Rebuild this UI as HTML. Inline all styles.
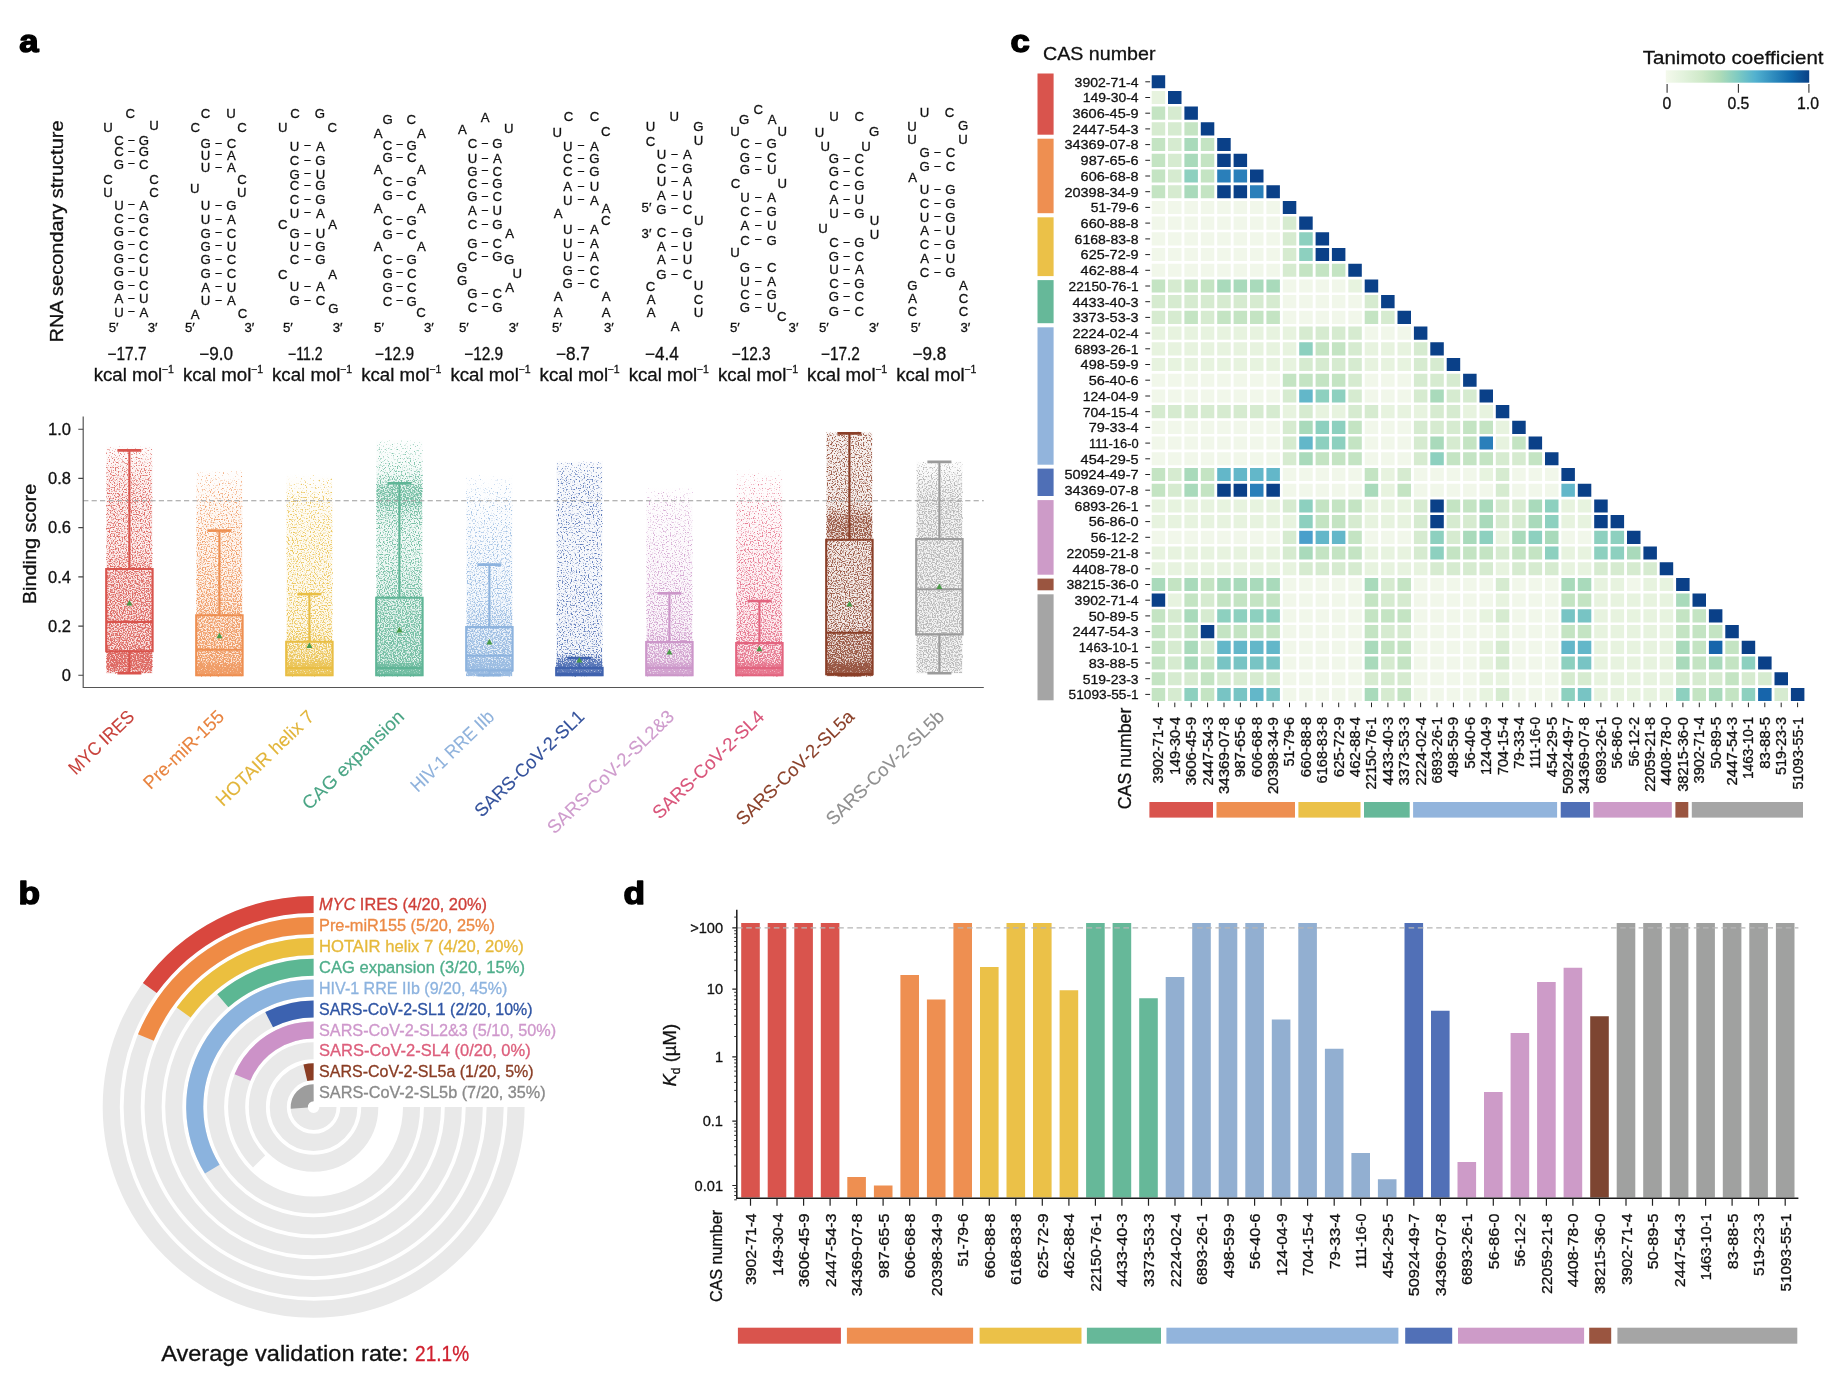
<!DOCTYPE html>
<html lang="en"><head><meta charset="utf-8"><title>Figure</title>
<style>html,body{margin:0;padding:0;background:#fff}svg{display:block;will-change:transform;opacity:.999;font-family:"Liberation Sans",sans-serif}</style></head>
<body>
<svg width="1832" height="1378" viewBox="0 0 1832 1378">
<rect width="1832" height="1378" fill="#fff"/>
<!-- panel a: structures -->
<g font-size="13.2" text-anchor="middle" fill="#111" stroke="#111" stroke-width="0.3">
<text x="119" y="144.8">C</text><text x="143.8" y="144.8">G</text>
<text x="119" y="156.3">C</text><text x="143.8" y="156.3">G</text>
<text x="119" y="168.7">G</text><text x="143.8" y="168.7">C</text>
<text x="119" y="209.6">U</text><text x="143.8" y="209.6">A</text>
<text x="119" y="223.2">C</text><text x="143.8" y="223.2">G</text>
<text x="119" y="236.2">G</text><text x="143.8" y="236.2">C</text>
<text x="119" y="249.7">G</text><text x="143.8" y="249.7">C</text>
<text x="119" y="263.1">G</text><text x="143.8" y="263.1">C</text>
<text x="119" y="276.1">G</text><text x="143.8" y="276.1">U</text>
<text x="119" y="289.9">G</text><text x="143.8" y="289.9">C</text>
<text x="119" y="303.4">A</text><text x="143.8" y="303.4">U</text>
<text x="119" y="316.6">U</text><text x="143.8" y="316.6">A</text>
<text x="130.3" y="117.8">C</text>
<text x="108.1" y="132.4">U</text>
<text x="153.9" y="130.2">U</text>
<text x="108.1" y="184.2">C</text>
<text x="153.9" y="184.2">C</text>
<text x="108.1" y="197.3">U</text>
<text x="153.9" y="197.3">C</text>
<text x="113.6" y="331.6">5′</text>
<text x="152.6" y="331.6">3′</text>
<text x="205.6" y="147.8">G</text><text x="231.5" y="147.8">C</text>
<text x="205.6" y="159.7">U</text><text x="231.5" y="159.7">A</text>
<text x="205.6" y="172.3">U</text><text x="231.5" y="172.3">A</text>
<text x="205.6" y="210.4">U</text><text x="231.5" y="210.4">G</text>
<text x="205.6" y="224.1">U</text><text x="231.5" y="224.1">A</text>
<text x="205.6" y="237.7">G</text><text x="231.5" y="237.7">C</text>
<text x="205.6" y="250.7">G</text><text x="231.5" y="250.7">U</text>
<text x="205.6" y="264.4">G</text><text x="231.5" y="264.4">C</text>
<text x="205.6" y="278.2">G</text><text x="231.5" y="278.2">C</text>
<text x="205.6" y="291.6">A</text><text x="231.5" y="291.6">U</text>
<text x="205.6" y="305.1">U</text><text x="231.5" y="305.1">A</text>
<text x="205.6" y="117.8">C</text>
<text x="231.1" y="117.8">U</text>
<text x="195.2" y="132.1">C</text>
<text x="242" y="132.1">C</text>
<text x="242" y="183.8">C</text>
<text x="194.7" y="192.7">U</text>
<text x="241.7" y="197.3">U</text>
<text x="195.2" y="318.9">A</text>
<text x="242.4" y="318.4">C</text>
<text x="189.8" y="331.6">5′</text>
<text x="249.3" y="331.6">3′</text>
<text x="294.6" y="150.6">U</text><text x="320.4" y="150.6">A</text>
<text x="294.6" y="165.1">C</text><text x="320.4" y="165.1">G</text>
<text x="294.6" y="178.7">G</text><text x="320.4" y="178.7">U</text>
<text x="294.6" y="190.4">C</text><text x="320.4" y="190.4">G</text>
<text x="294.6" y="204.1">C</text><text x="320.4" y="204.1">G</text>
<text x="294.6" y="217.7">U</text><text x="320.4" y="217.7">A</text>
<text x="294.6" y="237.9">G</text><text x="320.4" y="237.9">U</text>
<text x="294.6" y="250.7">U</text><text x="320.4" y="250.7">G</text>
<text x="294.6" y="264.4">C</text><text x="320.4" y="264.4">G</text>
<text x="294.6" y="291.1">U</text><text x="320.4" y="291.1">A</text>
<text x="294.6" y="305.1">G</text><text x="320.4" y="305.1">C</text>
<text x="295" y="117.8">C</text>
<text x="320" y="117.8">G</text>
<text x="282.7" y="132.1">U</text>
<text x="332.2" y="132.1">C</text>
<text x="282.7" y="228.9">C</text>
<text x="332.7" y="228.9">A</text>
<text x="282.7" y="278.9">C</text>
<text x="332.7" y="278.9">A</text>
<text x="333.5" y="313.4">G</text>
<text x="287.8" y="331.6">5′</text>
<text x="337.6" y="331.6">3′</text>
<text x="387.6" y="149.7">C</text><text x="411.7" y="149.7">G</text>
<text x="387.6" y="161.8">G</text><text x="411.7" y="161.8">C</text>
<text x="387.6" y="186.4">C</text><text x="411.7" y="186.4">G</text>
<text x="387.6" y="200.4">G</text><text x="411.7" y="200.4">C</text>
<text x="387.6" y="224.6">C</text><text x="411.7" y="224.6">G</text>
<text x="387.6" y="238.6">G</text><text x="411.7" y="238.6">C</text>
<text x="387.6" y="263.9">C</text><text x="411.7" y="263.9">G</text>
<text x="387.6" y="277.6">G</text><text x="411.7" y="277.6">C</text>
<text x="387.6" y="291.6">G</text><text x="411.7" y="291.6">C</text>
<text x="387.6" y="305.6">C</text><text x="411.7" y="305.6">G</text>
<text x="387.7" y="123.7">G</text>
<text x="411.3" y="123.7">C</text>
<text x="378.1" y="138.2">A</text>
<text x="421.3" y="138.2">A</text>
<text x="378.1" y="174.2">A</text>
<text x="421.3" y="174.2">A</text>
<text x="378.1" y="213.2">A</text>
<text x="421.3" y="213.2">A</text>
<text x="378.1" y="251.2">A</text>
<text x="421.3" y="251.2">A</text>
<text x="421.1" y="316.6">C</text>
<text x="379" y="331.6">5′</text>
<text x="428.9" y="331.6">3′</text>
<text x="472.5" y="147.8">C</text><text x="497.3" y="147.8">G</text>
<text x="472.5" y="162.8">U</text><text x="497.3" y="162.8">A</text>
<text x="472.5" y="175.6">G</text><text x="497.3" y="175.6">C</text>
<text x="472.5" y="188.2">C</text><text x="497.3" y="188.2">G</text>
<text x="472.5" y="201.3">G</text><text x="497.3" y="201.3">C</text>
<text x="472.5" y="214.9">A</text><text x="497.3" y="214.9">U</text>
<text x="472.5" y="228.9">C</text><text x="497.3" y="228.9">G</text>
<text x="472.5" y="247.7">G</text><text x="497.3" y="247.7">C</text>
<text x="472.5" y="260.9">C</text><text x="497.3" y="260.9">G</text>
<text x="472.5" y="298.4">G</text><text x="497.3" y="298.4">C</text>
<text x="472.5" y="311.6">C</text><text x="497.3" y="311.6">G</text>
<text x="485.2" y="121.8">A</text>
<text x="462.5" y="133.8">A</text>
<text x="508.7" y="133.3">U</text>
<text x="509.7" y="237.9">A</text>
<text x="509.1" y="264.4">G</text>
<text x="462.1" y="271.8">G</text>
<text x="517.3" y="278.4">U</text>
<text x="462.1" y="285.1">G</text>
<text x="509.7" y="291.6">A</text>
<text x="463.9" y="331.6">5′</text>
<text x="513.6" y="331.6">3′</text>
<text x="567.7" y="150.6">U</text><text x="594.4" y="150.6">A</text>
<text x="567.7" y="162.8">C</text><text x="594.4" y="162.8">G</text>
<text x="567.7" y="175.9">C</text><text x="594.4" y="175.9">G</text>
<text x="567.7" y="191.1">A</text><text x="594.4" y="191.1">U</text>
<text x="567.7" y="204.7">U</text><text x="594.4" y="204.7">A</text>
<text x="567.7" y="234.3">U</text><text x="594.4" y="234.3">A</text>
<text x="567.7" y="247.7">U</text><text x="594.4" y="247.7">A</text>
<text x="567.7" y="260.9">U</text><text x="594.4" y="260.9">A</text>
<text x="567.7" y="274.9">G</text><text x="594.4" y="274.9">C</text>
<text x="567.7" y="288.4">G</text><text x="594.4" y="288.4">C</text>
<text x="568.5" y="121.2">C</text>
<text x="594.4" y="121.2">C</text>
<text x="557.2" y="136.9">U</text>
<text x="605.8" y="136.1">C</text>
<text x="558.1" y="218.1">A</text>
<text x="606.2" y="213.2">A</text>
<text x="605.8" y="224.6">C</text>
<text x="558.1" y="301.4">A</text>
<text x="606.2" y="300.8">A</text>
<text x="558.1" y="317.4">A</text>
<text x="606.2" y="316.9">A</text>
<text x="556.9" y="331.6">5′</text>
<text x="608.9" y="331.6">3′</text>
<text x="661.5" y="158.8">U</text><text x="687.5" y="158.8">A</text>
<text x="661.5" y="172.7">C</text><text x="687.5" y="172.7">G</text>
<text x="661.5" y="186.4">U</text><text x="687.5" y="186.4">A</text>
<text x="661.5" y="199.8">A</text><text x="687.5" y="199.8">U</text>
<text x="661.5" y="213.7">G</text><text x="687.5" y="213.7">C</text>
<text x="661.5" y="236.8">C</text><text x="687.5" y="236.8">G</text>
<text x="661.5" y="251.2">A</text><text x="687.5" y="251.2">U</text>
<text x="661.5" y="264.4">A</text><text x="687.5" y="264.4">U</text>
<text x="661.5" y="279.4">G</text><text x="687.5" y="279.4">C</text>
<text x="674.2" y="120.7">U</text>
<text x="650.6" y="130.6">U</text>
<text x="698.4" y="130.6">G</text>
<text x="650.6" y="146.1">C</text>
<text x="698.4" y="145.4">U</text>
<text x="646.5" y="211.8">5′</text>
<text x="698.7" y="225.2">U</text>
<text x="646.5" y="237.7">3′</text>
<text x="650.6" y="290.6">C</text>
<text x="698.4" y="290.2">U</text>
<text x="651.2" y="303.9">A</text>
<text x="698.4" y="303.9">C</text>
<text x="651.2" y="317.4">A</text>
<text x="698.4" y="317.4">U</text>
<text x="675.1" y="331.1">A</text>
<text x="745" y="147.8">C</text><text x="771.7" y="147.8">G</text>
<text x="745" y="161.8">G</text><text x="771.7" y="161.8">C</text>
<text x="745" y="173.8">G</text><text x="771.7" y="173.8">U</text>
<text x="745" y="202.2">U</text><text x="771.7" y="202.2">A</text>
<text x="745" y="215.8">C</text><text x="771.7" y="215.8">G</text>
<text x="745" y="230.1">A</text><text x="771.7" y="230.1">U</text>
<text x="745" y="244.6">C</text><text x="771.7" y="244.6">G</text>
<text x="745" y="271.8">G</text><text x="771.7" y="271.8">C</text>
<text x="745" y="285.8">U</text><text x="771.7" y="285.8">A</text>
<text x="745" y="298.9">C</text><text x="771.7" y="298.9">G</text>
<text x="745" y="312.1">G</text><text x="771.7" y="312.1">U</text>
<text x="758.2" y="114">C</text>
<text x="744.1" y="123.7">G</text>
<text x="772.2" y="123.7">A</text>
<text x="735" y="135.7">U</text>
<text x="782.2" y="136.1">U</text>
<text x="735.4" y="188.2">C</text>
<text x="782.2" y="188.2">U</text>
<text x="735" y="257.2">U</text>
<text x="781.8" y="321.4">C</text>
<text x="734.8" y="331.6">5′</text>
<text x="793.5" y="331.6">3′</text>
<text x="833.9" y="162.8">G</text><text x="859.3" y="162.8">C</text>
<text x="833.9" y="175.9">G</text><text x="859.3" y="175.9">C</text>
<text x="833.9" y="190.4">C</text><text x="859.3" y="190.4">G</text>
<text x="833.9" y="204.1">A</text><text x="859.3" y="204.1">U</text>
<text x="833.9" y="218.1">U</text><text x="859.3" y="218.1">G</text>
<text x="833.9" y="246.8">C</text><text x="859.3" y="246.8">G</text>
<text x="833.9" y="260.9">G</text><text x="859.3" y="260.9">C</text>
<text x="833.9" y="274.2">U</text><text x="859.3" y="274.2">A</text>
<text x="833.9" y="288.1">C</text><text x="859.3" y="288.1">G</text>
<text x="833.9" y="301.1">G</text><text x="859.3" y="301.1">C</text>
<text x="833.9" y="315.6">G</text><text x="859.3" y="315.6">C</text>
<text x="833.9" y="120.7">U</text>
<text x="859.3" y="120.7">C</text>
<text x="819.4" y="136.9">U</text>
<text x="874.2" y="135.7">G</text>
<text x="825.2" y="150.6">U</text>
<text x="866" y="150.6">U</text>
<text x="874.6" y="225.2">U</text>
<text x="823" y="232.6">U</text>
<text x="874.6" y="239.4">U</text>
<text x="823.8" y="331.6">5′</text>
<text x="873.8" y="331.6">3′</text>
<text x="924.6" y="157.4">G</text><text x="950.4" y="157.4">C</text>
<text x="924.6" y="170.8">G</text><text x="950.4" y="170.8">C</text>
<text x="924.6" y="194.1">U</text><text x="950.4" y="194.1">G</text>
<text x="924.6" y="208.1">C</text><text x="950.4" y="208.1">G</text>
<text x="924.6" y="221.7">U</text><text x="950.4" y="221.7">G</text>
<text x="924.6" y="235.4">A</text><text x="950.4" y="235.4">U</text>
<text x="924.6" y="249.4">C</text><text x="950.4" y="249.4">G</text>
<text x="924.6" y="263.1">A</text><text x="950.4" y="263.1">U</text>
<text x="924.6" y="277.1">C</text><text x="950.4" y="277.1">G</text>
<text x="924.6" y="117">U</text>
<text x="949.5" y="117">C</text>
<text x="911.9" y="130.6">U</text>
<text x="963.1" y="129.7">G</text>
<text x="911.9" y="144.2">U</text>
<text x="963.1" y="144.2">U</text>
<text x="912.7" y="182.2">A</text>
<text x="912.3" y="290.2">G</text>
<text x="963.5" y="290.2">A</text>
<text x="912.7" y="302.9">A</text>
<text x="963.5" y="302.9">C</text>
<text x="912.3" y="315.6">C</text>
<text x="963.5" y="315.6">C</text>
<text x="915.6" y="331.6">5′</text>
<text x="965.3" y="331.6">3′</text>
</g>
<path d="M128.2 140.5h6.4M128.2 151.5h6.4M128.2 163.5h6.4M128.2 204.5h6.4M128.2 218.5h6.4M128.2 231.5h6.4M128.2 244.5h6.4M128.2 258.5h6.4M128.2 271.5h6.4M128.2 285.5h6.4M128.2 298.5h6.4M128.2 311.5h6.4M215.4 143.5h6.4M215.4 154.5h6.4M215.4 167.5h6.4M215.4 205.5h6.4M215.4 219.5h6.4M215.4 232.5h6.4M215.4 245.5h6.4M215.4 259.5h6.4M215.4 273.5h6.4M215.4 286.5h6.4M215.4 300.5h6.4M304.3 145.5h6.4M304.3 160.5h6.4M304.3 173.5h6.4M304.3 185.5h6.4M304.3 199.5h6.4M304.3 212.5h6.4M304.3 233.5h6.4M304.3 245.5h6.4M304.3 259.5h6.4M304.3 286.5h6.4M304.3 300.5h6.4M396.4 144.5h6.4M396.4 157.5h6.4M396.4 181.5h6.4M396.4 195.5h6.4M396.4 219.5h6.4M396.4 233.5h6.4M396.4 259.5h6.4M396.4 272.5h6.4M396.4 286.5h6.4M396.4 300.5h6.4M481.7 143.5h6.4M481.7 158.5h6.4M481.7 170.5h6.4M481.7 183.5h6.4M481.7 196.5h6.4M481.7 210.5h6.4M481.7 224.5h6.4M481.7 242.5h6.4M481.7 256.5h6.4M481.7 293.5h6.4M481.7 306.5h6.4M577.8 145.5h6.4M577.8 158.5h6.4M577.8 171.5h6.4M577.8 186.5h6.4M577.8 199.5h6.4M577.8 229.5h6.4M577.8 242.5h6.4M577.8 256.5h6.4M577.8 270.5h6.4M577.8 283.5h6.4M671.3 154.5h6.4M671.3 167.5h6.4M671.3 181.5h6.4M671.3 195.5h6.4M671.3 208.5h6.4M671.3 232.5h6.4M671.3 246.5h6.4M671.3 259.5h6.4M671.3 274.5h6.4M755.1 143.5h6.4M755.1 157.5h6.4M755.1 169.5h6.4M755.1 197.5h6.4M755.1 211.5h6.4M755.1 225.5h6.4M755.1 239.5h6.4M755.1 267.5h6.4M755.1 281.5h6.4M755.1 294.5h6.4M755.1 307.5h6.4M843.4 158.5h6.4M843.4 171.5h6.4M843.4 185.5h6.4M843.4 199.5h6.4M843.4 213.5h6.4M843.4 242.5h6.4M843.4 256.5h6.4M843.4 269.5h6.4M843.4 283.5h6.4M843.4 296.5h6.4M843.4 310.5h6.4M934.3 152.5h6.4M934.3 166.5h6.4M934.3 189.5h6.4M934.3 203.5h6.4M934.3 216.5h6.4M934.3 230.5h6.4M934.3 244.5h6.4M934.3 258.5h6.4M934.3 272.5h6.4" stroke="#111" stroke-width="1.2" fill="none"/>
<g font-size="17.5" text-anchor="middle" fill="#111" stroke="#111" stroke-width="0.3">
<text x="127" y="359.6" textLength="39" lengthAdjust="spacingAndGlyphs">−17.7</text>
<text x="93.7" y="380.8" text-anchor="start" textLength="68.5" lengthAdjust="spacingAndGlyphs">kcal mol</text>
<text x="161.8" y="373" text-anchor="start" font-size="10.5">−1</text>
<text x="216.2" y="359.6" textLength="33.8" lengthAdjust="spacingAndGlyphs">−9.0</text>
<text x="182.9" y="380.8" text-anchor="start" textLength="68.5" lengthAdjust="spacingAndGlyphs">kcal mol</text>
<text x="251" y="373" text-anchor="start" font-size="10.5">−1</text>
<text x="305.3" y="359.6" textLength="34.5" lengthAdjust="spacingAndGlyphs">−11.2</text>
<text x="272" y="380.8" text-anchor="start" textLength="68.5" lengthAdjust="spacingAndGlyphs">kcal mol</text>
<text x="340.1" y="373" text-anchor="start" font-size="10.5">−1</text>
<text x="394.5" y="359.6" textLength="39" lengthAdjust="spacingAndGlyphs">−12.9</text>
<text x="361.2" y="380.8" text-anchor="start" textLength="68.5" lengthAdjust="spacingAndGlyphs">kcal mol</text>
<text x="429.3" y="373" text-anchor="start" font-size="10.5">−1</text>
<text x="483.7" y="359.6" textLength="39" lengthAdjust="spacingAndGlyphs">−12.9</text>
<text x="450.4" y="380.8" text-anchor="start" textLength="68.5" lengthAdjust="spacingAndGlyphs">kcal mol</text>
<text x="518.5" y="373" text-anchor="start" font-size="10.5">−1</text>
<text x="572.9" y="359.6" textLength="33.8" lengthAdjust="spacingAndGlyphs">−8.7</text>
<text x="539.6" y="380.8" text-anchor="start" textLength="68.5" lengthAdjust="spacingAndGlyphs">kcal mol</text>
<text x="607.6" y="373" text-anchor="start" font-size="10.5">−1</text>
<text x="662" y="359.6" textLength="33.8" lengthAdjust="spacingAndGlyphs">−4.4</text>
<text x="628.7" y="380.8" text-anchor="start" textLength="68.5" lengthAdjust="spacingAndGlyphs">kcal mol</text>
<text x="696.8" y="373" text-anchor="start" font-size="10.5">−1</text>
<text x="751.2" y="359.6" textLength="39" lengthAdjust="spacingAndGlyphs">−12.3</text>
<text x="717.9" y="380.8" text-anchor="start" textLength="68.5" lengthAdjust="spacingAndGlyphs">kcal mol</text>
<text x="786" y="373" text-anchor="start" font-size="10.5">−1</text>
<text x="840.4" y="359.6" textLength="39" lengthAdjust="spacingAndGlyphs">−17.2</text>
<text x="807.1" y="380.8" text-anchor="start" textLength="68.5" lengthAdjust="spacingAndGlyphs">kcal mol</text>
<text x="875.2" y="373" text-anchor="start" font-size="10.5">−1</text>
<text x="929.5" y="359.6" textLength="33.8" lengthAdjust="spacingAndGlyphs">−9.8</text>
<text x="896.2" y="380.8" text-anchor="start" textLength="68.5" lengthAdjust="spacingAndGlyphs">kcal mol</text>
<text x="964.3" y="373" text-anchor="start" font-size="10.5">−1</text>
</g>
<text transform="translate(63 231.5) rotate(-90)" font-size="17.5" text-anchor="middle" fill="#111" stroke="#111" stroke-width="0.3" textLength="222" lengthAdjust="spacingAndGlyphs">RNA secondary structure</text>
<!-- panel a: box plot -->
<defs><filter id="stip" x="0" y="0" width="1" height="1" color-interpolation-filters="sRGB"><feTurbulence type="fractalNoise" baseFrequency="0.77" numOctaves="1" seed="3" result="n"/><feComposite in="n" in2="SourceAlpha" operator="arithmetic" k1="0" k2="6" k3="3" k4="-4.5" result="m0"/><feColorMatrix in="m0" type="matrix" values="0 0 0 0 0  0 0 0 0 0  0 0 0 0 0  0 0 0 1 0" result="m"/><feColorMatrix in="SourceGraphic" type="matrix" values="1 0 0 0 0  0 1 0 0 0  0 0 1 0 0  0 0 0 255 0" result="s"/><feComposite in="s" in2="m" operator="in"/></filter>
<linearGradient id="sg0" x1="0" x2="0" y1="0" y2="1"><stop offset="0.0647" stop-color="#d9544d" stop-opacity="0.000"/><stop offset="0.0797" stop-color="#d9544d" stop-opacity="0.323"/><stop offset="0.1195" stop-color="#d9544d" stop-opacity="0.411"/><stop offset="0.1594" stop-color="#d9544d" stop-opacity="0.456"/><stop offset="0.1992" stop-color="#d9544d" stop-opacity="0.500"/><stop offset="0.2324" stop-color="#d9544d" stop-opacity="0.512"/><stop offset="0.2656" stop-color="#d9544d" stop-opacity="0.523"/><stop offset="0.2988" stop-color="#d9544d" stop-opacity="0.535"/><stop offset="0.3320" stop-color="#d9544d" stop-opacity="0.539"/><stop offset="0.3652" stop-color="#d9544d" stop-opacity="0.542"/><stop offset="0.3984" stop-color="#d9544d" stop-opacity="0.546"/><stop offset="0.4316" stop-color="#d9544d" stop-opacity="0.549"/><stop offset="0.4648" stop-color="#d9544d" stop-opacity="0.553"/><stop offset="0.4980" stop-color="#d9544d" stop-opacity="0.556"/><stop offset="0.5328" stop-color="#d9544d" stop-opacity="0.598"/><stop offset="0.5677" stop-color="#d9544d" stop-opacity="0.634"/><stop offset="0.5996" stop-color="#d9544d" stop-opacity="0.640"/><stop offset="0.6314" stop-color="#d9544d" stop-opacity="0.646"/><stop offset="0.6633" stop-color="#d9544d" stop-opacity="0.652"/><stop offset="0.6952" stop-color="#d9544d" stop-opacity="0.658"/><stop offset="0.7270" stop-color="#d9544d" stop-opacity="0.664"/><stop offset="0.7589" stop-color="#d9544d" stop-opacity="0.670"/><stop offset="0.7908" stop-color="#d9544d" stop-opacity="0.676"/><stop offset="0.8227" stop-color="#d9544d" stop-opacity="0.682"/><stop offset="0.8545" stop-color="#d9544d" stop-opacity="0.688"/><stop offset="0.8864" stop-color="#d9544d" stop-opacity="0.694"/><stop offset="0.8983" stop-color="#d9544d" stop-opacity="0.855"/><stop offset="0.9322" stop-color="#d9544d" stop-opacity="0.855"/><stop offset="0.9661" stop-color="#d9544d" stop-opacity="0.855"/><stop offset="0.9860" stop-color="#d9544d" stop-opacity="0.664"/><stop offset="0.9920" stop-color="#d9544d" stop-opacity="0.000"/></linearGradient>
<linearGradient id="sg1" x1="0" x2="0" y1="0" y2="1"><stop offset="0.1594" stop-color="#ee8f51" stop-opacity="0.000"/><stop offset="0.1793" stop-color="#ee8f51" stop-opacity="0.269"/><stop offset="0.2141" stop-color="#ee8f51" stop-opacity="0.330"/><stop offset="0.2490" stop-color="#ee8f51" stop-opacity="0.377"/><stop offset="0.2822" stop-color="#ee8f51" stop-opacity="0.408"/><stop offset="0.3154" stop-color="#ee8f51" stop-opacity="0.432"/><stop offset="0.3486" stop-color="#ee8f51" stop-opacity="0.456"/><stop offset="0.3818" stop-color="#ee8f51" stop-opacity="0.479"/><stop offset="0.4150" stop-color="#ee8f51" stop-opacity="0.502"/><stop offset="0.4482" stop-color="#ee8f51" stop-opacity="0.521"/><stop offset="0.4781" stop-color="#ee8f51" stop-opacity="0.531"/><stop offset="0.5079" stop-color="#ee8f51" stop-opacity="0.541"/><stop offset="0.5378" stop-color="#ee8f51" stop-opacity="0.550"/><stop offset="0.5677" stop-color="#ee8f51" stop-opacity="0.560"/><stop offset="0.5976" stop-color="#ee8f51" stop-opacity="0.570"/><stop offset="0.6275" stop-color="#ee8f51" stop-opacity="0.591"/><stop offset="0.6573" stop-color="#ee8f51" stop-opacity="0.610"/><stop offset="0.6872" stop-color="#ee8f51" stop-opacity="0.628"/><stop offset="0.7171" stop-color="#ee8f51" stop-opacity="0.646"/><stop offset="0.7470" stop-color="#ee8f51" stop-opacity="0.664"/><stop offset="0.7785" stop-color="#ee8f51" stop-opacity="0.679"/><stop offset="0.8100" stop-color="#ee8f51" stop-opacity="0.694"/><stop offset="0.8416" stop-color="#ee8f51" stop-opacity="0.709"/><stop offset="0.8731" stop-color="#ee8f51" stop-opacity="0.726"/><stop offset="0.9047" stop-color="#ee8f51" stop-opacity="0.742"/><stop offset="0.9362" stop-color="#ee8f51" stop-opacity="0.758"/><stop offset="0.9661" stop-color="#ee8f51" stop-opacity="1.000"/><stop offset="0.9960" stop-color="#ee8f51" stop-opacity="1.000"/><stop offset="0.9961" stop-color="#ee8f51" stop-opacity="1.000"/></linearGradient>
<linearGradient id="sg2" x1="0" x2="0" y1="0" y2="1"><stop offset="0.1793" stop-color="#e9be44" stop-opacity="0.000"/><stop offset="0.1992" stop-color="#e9be44" stop-opacity="0.269"/><stop offset="0.2390" stop-color="#e9be44" stop-opacity="0.350"/><stop offset="0.2789" stop-color="#e9be44" stop-opacity="0.411"/><stop offset="0.3087" stop-color="#e9be44" stop-opacity="0.427"/><stop offset="0.3386" stop-color="#e9be44" stop-opacity="0.442"/><stop offset="0.3685" stop-color="#e9be44" stop-opacity="0.458"/><stop offset="0.3984" stop-color="#e9be44" stop-opacity="0.473"/><stop offset="0.4316" stop-color="#e9be44" stop-opacity="0.479"/><stop offset="0.4648" stop-color="#e9be44" stop-opacity="0.485"/><stop offset="0.4980" stop-color="#e9be44" stop-opacity="0.491"/><stop offset="0.5312" stop-color="#e9be44" stop-opacity="0.497"/><stop offset="0.5644" stop-color="#e9be44" stop-opacity="0.502"/><stop offset="0.5976" stop-color="#e9be44" stop-opacity="0.507"/><stop offset="0.6308" stop-color="#e9be44" stop-opacity="0.515"/><stop offset="0.6640" stop-color="#e9be44" stop-opacity="0.523"/><stop offset="0.6972" stop-color="#e9be44" stop-opacity="0.532"/><stop offset="0.7304" stop-color="#e9be44" stop-opacity="0.540"/><stop offset="0.7636" stop-color="#e9be44" stop-opacity="0.548"/><stop offset="0.7968" stop-color="#e9be44" stop-opacity="0.556"/><stop offset="0.8266" stop-color="#e9be44" stop-opacity="0.613"/><stop offset="0.8565" stop-color="#e9be44" stop-opacity="0.664"/><stop offset="0.8914" stop-color="#e9be44" stop-opacity="0.694"/><stop offset="0.9262" stop-color="#e9be44" stop-opacity="0.726"/><stop offset="0.9561" stop-color="#e9be44" stop-opacity="1.000"/><stop offset="0.9960" stop-color="#e9be44" stop-opacity="1.000"/><stop offset="0.9961" stop-color="#e9be44" stop-opacity="1.000"/></linearGradient>
<linearGradient id="sg3" x1="0" x2="0" y1="0" y2="1"><stop offset="0.0398" stop-color="#5fb596" stop-opacity="0.000"/><stop offset="0.0498" stop-color="#5fb596" stop-opacity="0.269"/><stop offset="0.0830" stop-color="#5fb596" stop-opacity="0.328"/><stop offset="0.1162" stop-color="#5fb596" stop-opacity="0.372"/><stop offset="0.1494" stop-color="#5fb596" stop-opacity="0.411"/><stop offset="0.2092" stop-color="#5fb596" stop-opacity="0.535"/><stop offset="0.2390" stop-color="#5fb596" stop-opacity="0.713"/><stop offset="0.2689" stop-color="#5fb596" stop-opacity="0.713"/><stop offset="0.2988" stop-color="#5fb596" stop-opacity="0.713"/><stop offset="0.3287" stop-color="#5fb596" stop-opacity="0.604"/><stop offset="0.3635" stop-color="#5fb596" stop-opacity="0.560"/><stop offset="0.3984" stop-color="#5fb596" stop-opacity="0.514"/><stop offset="0.4357" stop-color="#5fb596" stop-opacity="0.519"/><stop offset="0.4731" stop-color="#5fb596" stop-opacity="0.525"/><stop offset="0.5104" stop-color="#5fb596" stop-opacity="0.530"/><stop offset="0.5478" stop-color="#5fb596" stop-opacity="0.535"/><stop offset="0.5801" stop-color="#5fb596" stop-opacity="0.561"/><stop offset="0.6125" stop-color="#5fb596" stop-opacity="0.588"/><stop offset="0.6449" stop-color="#5fb596" stop-opacity="0.612"/><stop offset="0.6772" stop-color="#5fb596" stop-opacity="0.634"/><stop offset="0.7096" stop-color="#5fb596" stop-opacity="0.645"/><stop offset="0.7420" stop-color="#5fb596" stop-opacity="0.656"/><stop offset="0.7744" stop-color="#5fb596" stop-opacity="0.668"/><stop offset="0.8067" stop-color="#5fb596" stop-opacity="0.679"/><stop offset="0.8391" stop-color="#5fb596" stop-opacity="0.690"/><stop offset="0.8715" stop-color="#5fb596" stop-opacity="0.701"/><stop offset="0.9038" stop-color="#5fb596" stop-opacity="0.713"/><stop offset="0.9362" stop-color="#5fb596" stop-opacity="0.726"/><stop offset="0.9611" stop-color="#5fb596" stop-opacity="1.000"/><stop offset="0.9960" stop-color="#5fb596" stop-opacity="1.000"/><stop offset="0.9961" stop-color="#5fb596" stop-opacity="1.000"/></linearGradient>
<linearGradient id="sg4" x1="0" x2="0" y1="0" y2="1"><stop offset="0.1793" stop-color="#8db3de" stop-opacity="0.000"/><stop offset="0.1992" stop-color="#8db3de" stop-opacity="0.187"/><stop offset="0.2490" stop-color="#8db3de" stop-opacity="0.294"/><stop offset="0.2822" stop-color="#8db3de" stop-opacity="0.323"/><stop offset="0.3154" stop-color="#8db3de" stop-opacity="0.350"/><stop offset="0.3486" stop-color="#8db3de" stop-opacity="0.377"/><stop offset="0.3785" stop-color="#8db3de" stop-opacity="0.398"/><stop offset="0.4083" stop-color="#8db3de" stop-opacity="0.413"/><stop offset="0.4382" stop-color="#8db3de" stop-opacity="0.427"/><stop offset="0.4681" stop-color="#8db3de" stop-opacity="0.441"/><stop offset="0.4980" stop-color="#8db3de" stop-opacity="0.456"/><stop offset="0.5312" stop-color="#8db3de" stop-opacity="0.470"/><stop offset="0.5644" stop-color="#8db3de" stop-opacity="0.485"/><stop offset="0.5976" stop-color="#8db3de" stop-opacity="0.500"/><stop offset="0.6308" stop-color="#8db3de" stop-opacity="0.512"/><stop offset="0.6640" stop-color="#8db3de" stop-opacity="0.523"/><stop offset="0.6972" stop-color="#8db3de" stop-opacity="0.535"/><stop offset="0.7304" stop-color="#8db3de" stop-opacity="0.582"/><stop offset="0.7636" stop-color="#8db3de" stop-opacity="0.624"/><stop offset="0.7968" stop-color="#8db3de" stop-opacity="0.664"/><stop offset="0.8266" stop-color="#8db3de" stop-opacity="0.686"/><stop offset="0.8565" stop-color="#8db3de" stop-opacity="0.709"/><stop offset="0.8864" stop-color="#8db3de" stop-opacity="0.734"/><stop offset="0.9163" stop-color="#8db3de" stop-opacity="0.758"/><stop offset="0.9661" stop-color="#8db3de" stop-opacity="0.983"/><stop offset="0.9960" stop-color="#8db3de" stop-opacity="1.000"/><stop offset="0.9961" stop-color="#8db3de" stop-opacity="1.000"/></linearGradient>
<linearGradient id="sg5" x1="0" x2="0" y1="0" y2="1"><stop offset="0.1245" stop-color="#3f62ae" stop-opacity="0.000"/><stop offset="0.1394" stop-color="#3f62ae" stop-opacity="0.337"/><stop offset="0.1992" stop-color="#3f62ae" stop-opacity="0.402"/><stop offset="0.2291" stop-color="#3f62ae" stop-opacity="0.403"/><stop offset="0.2589" stop-color="#3f62ae" stop-opacity="0.404"/><stop offset="0.2888" stop-color="#3f62ae" stop-opacity="0.405"/><stop offset="0.3187" stop-color="#3f62ae" stop-opacity="0.406"/><stop offset="0.3486" stop-color="#3f62ae" stop-opacity="0.407"/><stop offset="0.3785" stop-color="#3f62ae" stop-opacity="0.407"/><stop offset="0.4083" stop-color="#3f62ae" stop-opacity="0.408"/><stop offset="0.4382" stop-color="#3f62ae" stop-opacity="0.409"/><stop offset="0.4681" stop-color="#3f62ae" stop-opacity="0.410"/><stop offset="0.4980" stop-color="#3f62ae" stop-opacity="0.411"/><stop offset="0.5294" stop-color="#3f62ae" stop-opacity="0.414"/><stop offset="0.5608" stop-color="#3f62ae" stop-opacity="0.418"/><stop offset="0.5922" stop-color="#3f62ae" stop-opacity="0.421"/><stop offset="0.6236" stop-color="#3f62ae" stop-opacity="0.425"/><stop offset="0.6550" stop-color="#3f62ae" stop-opacity="0.428"/><stop offset="0.6864" stop-color="#3f62ae" stop-opacity="0.432"/><stop offset="0.7179" stop-color="#3f62ae" stop-opacity="0.435"/><stop offset="0.7493" stop-color="#3f62ae" stop-opacity="0.438"/><stop offset="0.7807" stop-color="#3f62ae" stop-opacity="0.442"/><stop offset="0.8121" stop-color="#3f62ae" stop-opacity="0.445"/><stop offset="0.8435" stop-color="#3f62ae" stop-opacity="0.449"/><stop offset="0.8749" stop-color="#3f62ae" stop-opacity="0.452"/><stop offset="0.9063" stop-color="#3f62ae" stop-opacity="0.456"/><stop offset="0.9262" stop-color="#3f62ae" stop-opacity="0.664"/><stop offset="0.9611" stop-color="#3f62ae" stop-opacity="1.000"/><stop offset="0.9960" stop-color="#3f62ae" stop-opacity="1.000"/><stop offset="0.9961" stop-color="#3f62ae" stop-opacity="1.000"/></linearGradient>
<linearGradient id="sg6" x1="0" x2="0" y1="0" y2="1"><stop offset="0.2291" stop-color="#cc96c9" stop-opacity="0.000"/><stop offset="0.2490" stop-color="#cc96c9" stop-opacity="0.219"/><stop offset="0.2838" stop-color="#cc96c9" stop-opacity="0.303"/><stop offset="0.3187" stop-color="#cc96c9" stop-opacity="0.350"/><stop offset="0.3511" stop-color="#cc96c9" stop-opacity="0.367"/><stop offset="0.3834" stop-color="#cc96c9" stop-opacity="0.383"/><stop offset="0.4158" stop-color="#cc96c9" stop-opacity="0.400"/><stop offset="0.4482" stop-color="#cc96c9" stop-opacity="0.411"/><stop offset="0.4781" stop-color="#cc96c9" stop-opacity="0.423"/><stop offset="0.5079" stop-color="#cc96c9" stop-opacity="0.436"/><stop offset="0.5378" stop-color="#cc96c9" stop-opacity="0.448"/><stop offset="0.5677" stop-color="#cc96c9" stop-opacity="0.461"/><stop offset="0.5976" stop-color="#cc96c9" stop-opacity="0.473"/><stop offset="0.6308" stop-color="#cc96c9" stop-opacity="0.490"/><stop offset="0.6640" stop-color="#cc96c9" stop-opacity="0.505"/><stop offset="0.6972" stop-color="#cc96c9" stop-opacity="0.518"/><stop offset="0.7304" stop-color="#cc96c9" stop-opacity="0.530"/><stop offset="0.7636" stop-color="#cc96c9" stop-opacity="0.543"/><stop offset="0.7968" stop-color="#cc96c9" stop-opacity="0.556"/><stop offset="0.8291" stop-color="#cc96c9" stop-opacity="0.613"/><stop offset="0.8615" stop-color="#cc96c9" stop-opacity="0.664"/><stop offset="0.8988" stop-color="#cc96c9" stop-opacity="0.694"/><stop offset="0.9362" stop-color="#cc96c9" stop-opacity="0.726"/><stop offset="0.9611" stop-color="#cc96c9" stop-opacity="0.983"/><stop offset="0.9960" stop-color="#cc96c9" stop-opacity="1.000"/><stop offset="0.9961" stop-color="#cc96c9" stop-opacity="1.000"/></linearGradient>
<linearGradient id="sg7" x1="0" x2="0" y1="0" y2="1"><stop offset="0.1544" stop-color="#e3647f" stop-opacity="0.000"/><stop offset="0.1693" stop-color="#e3647f" stop-opacity="0.129"/><stop offset="0.2191" stop-color="#e3647f" stop-opacity="0.269"/><stop offset="0.2523" stop-color="#e3647f" stop-opacity="0.315"/><stop offset="0.2855" stop-color="#e3647f" stop-opacity="0.346"/><stop offset="0.3187" stop-color="#e3647f" stop-opacity="0.377"/><stop offset="0.3511" stop-color="#e3647f" stop-opacity="0.402"/><stop offset="0.3834" stop-color="#e3647f" stop-opacity="0.420"/><stop offset="0.4158" stop-color="#e3647f" stop-opacity="0.438"/><stop offset="0.4482" stop-color="#e3647f" stop-opacity="0.456"/><stop offset="0.4781" stop-color="#e3647f" stop-opacity="0.470"/><stop offset="0.5079" stop-color="#e3647f" stop-opacity="0.484"/><stop offset="0.5378" stop-color="#e3647f" stop-opacity="0.498"/><stop offset="0.5677" stop-color="#e3647f" stop-opacity="0.510"/><stop offset="0.5976" stop-color="#e3647f" stop-opacity="0.521"/><stop offset="0.6308" stop-color="#e3647f" stop-opacity="0.533"/><stop offset="0.6640" stop-color="#e3647f" stop-opacity="0.544"/><stop offset="0.6972" stop-color="#e3647f" stop-opacity="0.556"/><stop offset="0.7304" stop-color="#e3647f" stop-opacity="0.568"/><stop offset="0.7636" stop-color="#e3647f" stop-opacity="0.579"/><stop offset="0.7968" stop-color="#e3647f" stop-opacity="0.591"/><stop offset="0.8316" stop-color="#e3647f" stop-opacity="0.628"/><stop offset="0.8665" stop-color="#e3647f" stop-opacity="0.664"/><stop offset="0.9013" stop-color="#e3647f" stop-opacity="0.694"/><stop offset="0.9362" stop-color="#e3647f" stop-opacity="0.726"/><stop offset="0.9611" stop-color="#e3647f" stop-opacity="0.983"/><stop offset="0.9960" stop-color="#e3647f" stop-opacity="1.000"/><stop offset="0.9961" stop-color="#e3647f" stop-opacity="1.000"/></linearGradient>
<linearGradient id="sg8" x1="0" x2="0" y1="0" y2="1"><stop offset="0.0080" stop-color="#8a3f28" stop-opacity="0.000"/><stop offset="0.0199" stop-color="#8a3f28" stop-opacity="0.491"/><stop offset="0.0523" stop-color="#8a3f28" stop-opacity="0.496"/><stop offset="0.0847" stop-color="#8a3f28" stop-opacity="0.500"/><stop offset="0.1170" stop-color="#8a3f28" stop-opacity="0.504"/><stop offset="0.1494" stop-color="#8a3f28" stop-opacity="0.507"/><stop offset="0.1833" stop-color="#8a3f28" stop-opacity="0.513"/><stop offset="0.2171" stop-color="#8a3f28" stop-opacity="0.518"/><stop offset="0.2510" stop-color="#8a3f28" stop-opacity="0.524"/><stop offset="0.2848" stop-color="#8a3f28" stop-opacity="0.529"/><stop offset="0.3187" stop-color="#8a3f28" stop-opacity="0.535"/><stop offset="0.3585" stop-color="#8a3f28" stop-opacity="0.713"/><stop offset="0.3934" stop-color="#8a3f28" stop-opacity="0.713"/><stop offset="0.4283" stop-color="#8a3f28" stop-opacity="0.713"/><stop offset="0.4482" stop-color="#8a3f28" stop-opacity="0.563"/><stop offset="0.4799" stop-color="#8a3f28" stop-opacity="0.564"/><stop offset="0.5116" stop-color="#8a3f28" stop-opacity="0.566"/><stop offset="0.5432" stop-color="#8a3f28" stop-opacity="0.567"/><stop offset="0.5749" stop-color="#8a3f28" stop-opacity="0.568"/><stop offset="0.6066" stop-color="#8a3f28" stop-opacity="0.569"/><stop offset="0.6383" stop-color="#8a3f28" stop-opacity="0.571"/><stop offset="0.6700" stop-color="#8a3f28" stop-opacity="0.572"/><stop offset="0.7017" stop-color="#8a3f28" stop-opacity="0.573"/><stop offset="0.7334" stop-color="#8a3f28" stop-opacity="0.575"/><stop offset="0.7651" stop-color="#8a3f28" stop-opacity="0.576"/><stop offset="0.7968" stop-color="#8a3f28" stop-opacity="0.577"/><stop offset="0.8266" stop-color="#8a3f28" stop-opacity="0.694"/><stop offset="0.8632" stop-color="#8a3f28" stop-opacity="0.708"/><stop offset="0.8997" stop-color="#8a3f28" stop-opacity="0.723"/><stop offset="0.9362" stop-color="#8a3f28" stop-opacity="0.739"/><stop offset="0.9611" stop-color="#8a3f28" stop-opacity="1.000"/><stop offset="0.9960" stop-color="#8a3f28" stop-opacity="1.000"/><stop offset="0.9961" stop-color="#8a3f28" stop-opacity="1.000"/></linearGradient>
<linearGradient id="sg9" x1="0" x2="0" y1="0" y2="1"><stop offset="0.1245" stop-color="#adadad" stop-opacity="0.000"/><stop offset="0.1394" stop-color="#adadad" stop-opacity="0.402"/><stop offset="0.1992" stop-color="#adadad" stop-opacity="0.521"/><stop offset="0.2390" stop-color="#adadad" stop-opacity="0.570"/><stop offset="0.2789" stop-color="#adadad" stop-opacity="0.616"/><stop offset="0.3127" stop-color="#adadad" stop-opacity="0.621"/><stop offset="0.3466" stop-color="#adadad" stop-opacity="0.626"/><stop offset="0.3805" stop-color="#adadad" stop-opacity="0.631"/><stop offset="0.4143" stop-color="#adadad" stop-opacity="0.635"/><stop offset="0.4482" stop-color="#adadad" stop-opacity="0.640"/><stop offset="0.4800" stop-color="#adadad" stop-opacity="0.640"/><stop offset="0.5119" stop-color="#adadad" stop-opacity="0.640"/><stop offset="0.5438" stop-color="#adadad" stop-opacity="0.640"/><stop offset="0.5757" stop-color="#adadad" stop-opacity="0.640"/><stop offset="0.6075" stop-color="#adadad" stop-opacity="0.640"/><stop offset="0.6394" stop-color="#adadad" stop-opacity="0.640"/><stop offset="0.6713" stop-color="#adadad" stop-opacity="0.640"/><stop offset="0.7031" stop-color="#adadad" stop-opacity="0.640"/><stop offset="0.7350" stop-color="#adadad" stop-opacity="0.640"/><stop offset="0.7669" stop-color="#adadad" stop-opacity="0.640"/><stop offset="0.7988" stop-color="#adadad" stop-opacity="0.640"/><stop offset="0.8306" stop-color="#adadad" stop-opacity="0.640"/><stop offset="0.8691" stop-color="#adadad" stop-opacity="0.640"/><stop offset="0.9076" stop-color="#adadad" stop-opacity="0.640"/><stop offset="0.9462" stop-color="#adadad" stop-opacity="0.640"/><stop offset="0.9860" stop-color="#adadad" stop-opacity="0.591"/><stop offset="0.9920" stop-color="#adadad" stop-opacity="0.000"/></linearGradient>
<linearGradient id="ug0" x1="0" x2="0" y1="0" y2="1"><stop offset="0.0647" stop-color="#d9544d" stop-opacity="0.000"/><stop offset="0.0797" stop-color="#d9544d" stop-opacity="0.024"/><stop offset="0.1195" stop-color="#d9544d" stop-opacity="0.045"/><stop offset="0.1992" stop-color="#d9544d" stop-opacity="0.075"/><stop offset="0.2988" stop-color="#d9544d" stop-opacity="0.090"/><stop offset="0.4980" stop-color="#d9544d" stop-opacity="0.099"/><stop offset="0.5677" stop-color="#d9544d" stop-opacity="0.135"/><stop offset="0.8864" stop-color="#d9544d" stop-opacity="0.165"/><stop offset="0.8983" stop-color="#d9544d" stop-opacity="0.234"/><stop offset="0.9661" stop-color="#d9544d" stop-opacity="0.234"/><stop offset="0.9860" stop-color="#d9544d" stop-opacity="0.150"/><stop offset="0.9920" stop-color="#d9544d" stop-opacity="0.000"/></linearGradient>
<linearGradient id="ug1" x1="0" x2="0" y1="0" y2="1"><stop offset="0.1594" stop-color="#ee8f51" stop-opacity="0.000"/><stop offset="0.1793" stop-color="#ee8f51" stop-opacity="0.015"/><stop offset="0.2490" stop-color="#ee8f51" stop-opacity="0.036"/><stop offset="0.3486" stop-color="#ee8f51" stop-opacity="0.060"/><stop offset="0.4482" stop-color="#ee8f51" stop-opacity="0.084"/><stop offset="0.5976" stop-color="#ee8f51" stop-opacity="0.105"/><stop offset="0.7470" stop-color="#ee8f51" stop-opacity="0.150"/><stop offset="0.9362" stop-color="#ee8f51" stop-opacity="0.195"/><stop offset="0.9661" stop-color="#ee8f51" stop-opacity="0.285"/><stop offset="0.9960" stop-color="#ee8f51" stop-opacity="0.300"/></linearGradient>
<linearGradient id="ug2" x1="0" x2="0" y1="0" y2="1"><stop offset="0.1793" stop-color="#e9be44" stop-opacity="0.000"/><stop offset="0.1992" stop-color="#e9be44" stop-opacity="0.015"/><stop offset="0.2789" stop-color="#e9be44" stop-opacity="0.045"/><stop offset="0.3984" stop-color="#e9be44" stop-opacity="0.066"/><stop offset="0.5976" stop-color="#e9be44" stop-opacity="0.078"/><stop offset="0.7968" stop-color="#e9be44" stop-opacity="0.099"/><stop offset="0.8565" stop-color="#e9be44" stop-opacity="0.150"/><stop offset="0.9262" stop-color="#e9be44" stop-opacity="0.180"/><stop offset="0.9561" stop-color="#e9be44" stop-opacity="0.285"/><stop offset="0.9960" stop-color="#e9be44" stop-opacity="0.300"/></linearGradient>
<linearGradient id="ug3" x1="0" x2="0" y1="0" y2="1"><stop offset="0.0398" stop-color="#5fb596" stop-opacity="0.000"/><stop offset="0.0498" stop-color="#5fb596" stop-opacity="0.015"/><stop offset="0.1494" stop-color="#5fb596" stop-opacity="0.045"/><stop offset="0.2092" stop-color="#5fb596" stop-opacity="0.090"/><stop offset="0.2390" stop-color="#5fb596" stop-opacity="0.174"/><stop offset="0.2988" stop-color="#5fb596" stop-opacity="0.174"/><stop offset="0.3287" stop-color="#5fb596" stop-opacity="0.120"/><stop offset="0.3984" stop-color="#5fb596" stop-opacity="0.081"/><stop offset="0.5478" stop-color="#5fb596" stop-opacity="0.090"/><stop offset="0.6772" stop-color="#5fb596" stop-opacity="0.135"/><stop offset="0.9362" stop-color="#5fb596" stop-opacity="0.180"/><stop offset="0.9611" stop-color="#5fb596" stop-opacity="0.285"/><stop offset="0.9960" stop-color="#5fb596" stop-opacity="0.300"/></linearGradient>
<linearGradient id="ug4" x1="0" x2="0" y1="0" y2="1"><stop offset="0.1793" stop-color="#8db3de" stop-opacity="0.000"/><stop offset="0.1992" stop-color="#8db3de" stop-opacity="0.006"/><stop offset="0.2490" stop-color="#8db3de" stop-opacity="0.018"/><stop offset="0.3486" stop-color="#8db3de" stop-opacity="0.036"/><stop offset="0.4980" stop-color="#8db3de" stop-opacity="0.060"/><stop offset="0.6972" stop-color="#8db3de" stop-opacity="0.090"/><stop offset="0.7968" stop-color="#8db3de" stop-opacity="0.150"/><stop offset="0.9163" stop-color="#8db3de" stop-opacity="0.195"/><stop offset="0.9661" stop-color="#8db3de" stop-opacity="0.270"/><stop offset="0.9960" stop-color="#8db3de" stop-opacity="0.300"/></linearGradient>
<linearGradient id="ug5" x1="0" x2="0" y1="0" y2="1"><stop offset="0.1245" stop-color="#3f62ae" stop-opacity="0.000"/><stop offset="0.1394" stop-color="#3f62ae" stop-opacity="0.027"/><stop offset="0.1992" stop-color="#3f62ae" stop-opacity="0.042"/><stop offset="0.4980" stop-color="#3f62ae" stop-opacity="0.045"/><stop offset="0.9063" stop-color="#3f62ae" stop-opacity="0.060"/><stop offset="0.9262" stop-color="#3f62ae" stop-opacity="0.150"/><stop offset="0.9611" stop-color="#3f62ae" stop-opacity="0.285"/><stop offset="0.9960" stop-color="#3f62ae" stop-opacity="0.300"/></linearGradient>
<linearGradient id="ug6" x1="0" x2="0" y1="0" y2="1"><stop offset="0.2291" stop-color="#cc96c9" stop-opacity="0.000"/><stop offset="0.2490" stop-color="#cc96c9" stop-opacity="0.009"/><stop offset="0.3187" stop-color="#cc96c9" stop-opacity="0.030"/><stop offset="0.4482" stop-color="#cc96c9" stop-opacity="0.045"/><stop offset="0.5976" stop-color="#cc96c9" stop-opacity="0.066"/><stop offset="0.7968" stop-color="#cc96c9" stop-opacity="0.099"/><stop offset="0.8615" stop-color="#cc96c9" stop-opacity="0.150"/><stop offset="0.9362" stop-color="#cc96c9" stop-opacity="0.180"/><stop offset="0.9611" stop-color="#cc96c9" stop-opacity="0.270"/><stop offset="0.9960" stop-color="#cc96c9" stop-opacity="0.300"/></linearGradient>
<linearGradient id="ug7" x1="0" x2="0" y1="0" y2="1"><stop offset="0.1544" stop-color="#e3647f" stop-opacity="0.000"/><stop offset="0.1693" stop-color="#e3647f" stop-opacity="0.003"/><stop offset="0.2191" stop-color="#e3647f" stop-opacity="0.015"/><stop offset="0.3187" stop-color="#e3647f" stop-opacity="0.036"/><stop offset="0.4482" stop-color="#e3647f" stop-opacity="0.060"/><stop offset="0.5976" stop-color="#e3647f" stop-opacity="0.084"/><stop offset="0.7968" stop-color="#e3647f" stop-opacity="0.114"/><stop offset="0.8665" stop-color="#e3647f" stop-opacity="0.150"/><stop offset="0.9362" stop-color="#e3647f" stop-opacity="0.180"/><stop offset="0.9611" stop-color="#e3647f" stop-opacity="0.270"/><stop offset="0.9960" stop-color="#e3647f" stop-opacity="0.300"/></linearGradient>
<linearGradient id="ug8" x1="0" x2="0" y1="0" y2="1"><stop offset="0.0080" stop-color="#8a3f28" stop-opacity="0.000"/><stop offset="0.0199" stop-color="#8a3f28" stop-opacity="0.072"/><stop offset="0.1494" stop-color="#8a3f28" stop-opacity="0.078"/><stop offset="0.3187" stop-color="#8a3f28" stop-opacity="0.090"/><stop offset="0.3585" stop-color="#8a3f28" stop-opacity="0.174"/><stop offset="0.4283" stop-color="#8a3f28" stop-opacity="0.174"/><stop offset="0.4482" stop-color="#8a3f28" stop-opacity="0.102"/><stop offset="0.7968" stop-color="#8a3f28" stop-opacity="0.108"/><stop offset="0.8266" stop-color="#8a3f28" stop-opacity="0.165"/><stop offset="0.9362" stop-color="#8a3f28" stop-opacity="0.186"/><stop offset="0.9611" stop-color="#8a3f28" stop-opacity="0.285"/><stop offset="0.9960" stop-color="#8a3f28" stop-opacity="0.300"/></linearGradient>
<linearGradient id="ug9" x1="0" x2="0" y1="0" y2="1"><stop offset="0.1245" stop-color="#adadad" stop-opacity="0.000"/><stop offset="0.1394" stop-color="#adadad" stop-opacity="0.042"/><stop offset="0.1992" stop-color="#adadad" stop-opacity="0.084"/><stop offset="0.2789" stop-color="#adadad" stop-opacity="0.126"/><stop offset="0.4482" stop-color="#adadad" stop-opacity="0.138"/><stop offset="0.8306" stop-color="#adadad" stop-opacity="0.138"/><stop offset="0.9462" stop-color="#adadad" stop-opacity="0.138"/><stop offset="0.9860" stop-color="#adadad" stop-opacity="0.114"/><stop offset="0.9920" stop-color="#adadad" stop-opacity="0.000"/></linearGradient>
</defs>
<rect x="106.3" y="429.2" width="46.2" height="247.1" fill="url(#ug0)"/>
<rect x="196.3" y="429.2" width="46.2" height="247.1" fill="url(#ug1)"/>
<rect x="286.3" y="429.2" width="46.2" height="247.1" fill="url(#ug2)"/>
<rect x="376.3" y="429.2" width="46.2" height="247.1" fill="url(#ug3)"/>
<rect x="466.3" y="429.2" width="46.2" height="247.1" fill="url(#ug4)"/>
<rect x="556.3" y="429.2" width="46.2" height="247.1" fill="url(#ug5)"/>
<rect x="646.3" y="429.2" width="46.2" height="247.1" fill="url(#ug6)"/>
<rect x="736.3" y="429.2" width="46.2" height="247.1" fill="url(#ug7)"/>
<rect x="826.3" y="429.2" width="46.2" height="247.1" fill="url(#ug8)"/>
<rect x="916.3" y="429.2" width="46.2" height="247.1" fill="url(#ug9)"/>
<g filter="url(#stip)" opacity="0.82">
<rect x="106.3" y="429.2" width="46.2" height="247.1" fill="url(#sg0)"/>
<rect x="196.3" y="429.2" width="46.2" height="247.1" fill="url(#sg1)"/>
<rect x="286.3" y="429.2" width="46.2" height="247.1" fill="url(#sg2)"/>
<rect x="376.3" y="429.2" width="46.2" height="247.1" fill="url(#sg3)"/>
<rect x="466.3" y="429.2" width="46.2" height="247.1" fill="url(#sg4)"/>
<rect x="556.3" y="429.2" width="46.2" height="247.1" fill="url(#sg5)"/>
<rect x="646.3" y="429.2" width="46.2" height="247.1" fill="url(#sg6)"/>
<rect x="736.3" y="429.2" width="46.2" height="247.1" fill="url(#sg7)"/>
<rect x="826.3" y="429.2" width="46.2" height="247.1" fill="url(#sg8)"/>
<rect x="916.3" y="429.2" width="46.2" height="247.1" fill="url(#sg9)"/>
</g>
<path d="M83.2 500.8H983.8" stroke="#9c9c9c" stroke-width="1.1" stroke-dasharray="5.2 3.2" fill="none"/>
<path d="M106.2 569H152.6V651.2H106.2ZM106.2 621.9H152.6M129.4 569V450.4M129.4 651.2V673.3" stroke="#d9544d" stroke-width="2.1" fill="none"/><path d="M117.4 450.4H141.4M117.4 673.3H141.4" stroke="#d9544d" stroke-width="2.6" fill="none"/>
<path d="M129.4 599.9l3 5.6h-6z" fill="#4a9a48"/>
<path d="M196.2 615.3H242.6V675.3H196.2ZM196.2 649.7H242.6M219.4 615.3V530.6" stroke="#ee8f51" stroke-width="2.1" fill="none"/><path d="M207.4 530.6H231.4" stroke="#ee8f51" stroke-width="2.6" fill="none"/>
<path d="M219.4 632.7l3 5.6h-6z" fill="#4a9a48"/>
<path d="M286.2 641.8H332.6V675.3H286.2ZM286.2 667.9H332.6M309.4 641.8V594.1" stroke="#e9be44" stroke-width="2.1" fill="none"/><path d="M297.4 594.1H321.4" stroke="#e9be44" stroke-width="2.6" fill="none"/>
<path d="M309.4 642.5l3 5.6h-6z" fill="#4a9a48"/>
<path d="M376.2 597.8H422.6V675.3H376.2ZM376.2 667.9H422.6M399.4 597.8V483.3" stroke="#5fb596" stroke-width="2.1" fill="none"/><path d="M387.4 483.3H411.4" stroke="#5fb596" stroke-width="2.6" fill="none"/>
<path d="M399.4 626.8l3 5.6h-6z" fill="#4a9a48"/>
<path d="M466.2 627.1H512.6V670.4H466.2ZM466.2 655.6H512.6M489.4 627.1V564.6M489.4 670.4V675.3" stroke="#8db3de" stroke-width="2.1" fill="none"/><path d="M477.4 564.6H501.4M477.4 675.3H501.4" stroke="#8db3de" stroke-width="2.6" fill="none"/>
<path d="M489.4 638.8l3 5.6h-6z" fill="#4a9a48"/>
<path d="M556.2 667.9H602.6V675.3H556.2ZM556.2 673.8H602.6M579.4 667.9V658.1" stroke="#3f62ae" stroke-width="2.1" fill="none"/><path d="M567.4 658.1H591.4" stroke="#3f62ae" stroke-width="2.6" fill="none"/>
<path d="M579.4 657l3 5.6h-6z" fill="#4a9a48"/>
<path d="M646.2 642.1H692.6V675.3H646.2ZM646.2 667.9H692.6M669.4 642.1V593.3" stroke="#cc96c9" stroke-width="2.1" fill="none"/><path d="M657.4 593.3H681.4" stroke="#cc96c9" stroke-width="2.6" fill="none"/>
<path d="M669.4 648.9l3 5.6h-6z" fill="#4a9a48"/>
<path d="M736.2 643.1H782.6V675.3H736.2ZM736.2 667.9H782.6M759.4 643.1V601" stroke="#e3647f" stroke-width="2.1" fill="none"/><path d="M747.4 601H771.4" stroke="#e3647f" stroke-width="2.6" fill="none"/>
<path d="M759.4 645.7l3 5.6h-6z" fill="#4a9a48"/>
<path d="M826.2 539.7H872.6V674.1H826.2ZM826.2 632.7H872.6M849.4 539.7V433.4M849.4 674.1V675.3" stroke="#8a3f28" stroke-width="2.1" fill="none"/><path d="M837.4 433.4H861.4M837.4 675.3H861.4" stroke="#8a3f28" stroke-width="2.6" fill="none"/>
<path d="M849.4 600.9l3 5.6h-6z" fill="#4a9a48"/>
<path d="M916.2 539H962.6V634.4H916.2ZM916.2 589.2H962.6M939.4 539V461.9M939.4 634.4V673.3" stroke="#9b9b9b" stroke-width="2.1" fill="none"/><path d="M927.4 461.9H951.4M927.4 673.3H951.4" stroke="#9b9b9b" stroke-width="2.6" fill="none"/>
<path d="M939.4 583.5l3 5.6h-6z" fill="#4a9a48"/>
<path d="M83.2 416.5V687.5H983.8" stroke="#555" stroke-width="1.2" fill="none"/>
<path d="M78.3 675.3H83.2M78.3 626.1H83.2M78.3 576.9H83.2M78.3 527.6H83.2M78.3 478.4H83.2M78.3 429.2H83.2" stroke="#444" stroke-width="1.1" fill="none"/>
<g font-size="16.5" text-anchor="end" fill="#111" stroke="#111" stroke-width="0.3">
<text x="71" y="681.1">0</text>
<text x="71" y="631.9">0.2</text>
<text x="71" y="582.7">0.4</text>
<text x="71" y="533.4">0.6</text>
<text x="71" y="484.2">0.8</text>
<text x="71" y="435">1.0</text>
</g>
<text transform="translate(35.5 544) rotate(-90)" font-size="17.5" text-anchor="middle" fill="#111" stroke="#111" stroke-width="0.3" textLength="120.5" lengthAdjust="spacingAndGlyphs">Binding score</text>
<text transform="translate(135.4 718) rotate(-44)" font-size="18.5" text-anchor="end" fill="#c8403a" stroke="#c8403a" stroke-width="0.1" textLength="83" lengthAdjust="spacingAndGlyphs">MYC IRES</text>
<text transform="translate(225.4 718) rotate(-44)" font-size="18.5" text-anchor="end" fill="#e8833f" stroke="#e8833f" stroke-width="0.1" textLength="104" lengthAdjust="spacingAndGlyphs">Pre-miR-155</text>
<text transform="translate(315.4 718) rotate(-44)" font-size="18.5" text-anchor="end" fill="#e2b53a" stroke="#e2b53a" stroke-width="0.1" textLength="128.5" lengthAdjust="spacingAndGlyphs">HOTAIR helix 7</text>
<text transform="translate(405.4 718) rotate(-44)" font-size="18.5" text-anchor="end" fill="#4aa585" stroke="#4aa585" stroke-width="0.1" textLength="133.5" lengthAdjust="spacingAndGlyphs">CAG expansion</text>
<text transform="translate(495.4 718) rotate(-44)" font-size="18.5" text-anchor="end" fill="#8fb2dc" stroke="#8fb2dc" stroke-width="0.1" textLength="108" lengthAdjust="spacingAndGlyphs">HIV-1 RRE IIb</text>
<text transform="translate(585.4 718) rotate(-44)" font-size="18.5" text-anchor="end" fill="#34529c" stroke="#34529c" stroke-width="0.1" textLength="144" lengthAdjust="spacingAndGlyphs">SARS-CoV-2-SL1</text>
<text transform="translate(675.4 718) rotate(-44)" font-size="18.5" text-anchor="end" fill="#cf9ccd" stroke="#cf9ccd" stroke-width="0.1" textLength="168" lengthAdjust="spacingAndGlyphs">SARS-CoV-2-SL2&amp;3</text>
<text transform="translate(765.4 718) rotate(-44)" font-size="18.5" text-anchor="end" fill="#d9557a" stroke="#d9557a" stroke-width="0.1" textLength="147" lengthAdjust="spacingAndGlyphs">SARS-CoV-2-SL4</text>
<text transform="translate(855.4 718) rotate(-44)" font-size="18.5" text-anchor="end" fill="#8a3f28" stroke="#8a3f28" stroke-width="0.1" textLength="156" lengthAdjust="spacingAndGlyphs">SARS-CoV-2-SL5a</text>
<text transform="translate(945.4 718) rotate(-44)" font-size="18.5" text-anchor="end" fill="#8f8f8f" stroke="#8f8f8f" stroke-width="0.1" textLength="156" lengthAdjust="spacingAndGlyphs">SARS-CoV-2-SL5b</text>
<!-- panel b -->
<path d="M313.6 904.5A202.4 202.4 0 1 0 516.05 1107.00M313.6 925.5A181.5 181.5 0 1 0 495.15 1107.00M313.6 946.4A160.6 160.6 0 1 0 474.25 1107.00M313.6 967.2A139.8 139.8 0 1 0 453.35 1107.00M313.6 988.1A118.9 118.9 0 1 0 432.45 1107.00M313.6 1009A98 98 0 1 0 411.55 1107.00M313.6 1030A77.1 77.1 0 0 0 259.12 1161.48M313.6 1050.8A56.2 56.2 0 1 0 369.75 1107.00M313.6 1071.8A35.3 35.3 0 1 0 348.85 1107.00M313.6 1092.7A14.4 14.4 0 1 0 327.95 1107.00" stroke="#e9e9e9" stroke-width="17.1" fill="none"/>
<path d="M313.6 904.5A202.4 202.4 0 0 0 149.81 988.00" stroke="#d9473e" stroke-width="17.1" fill="none"/>
<text x="319" y="910" font-size="15.6" fill="#cf3f38" stroke="#cf3f38" stroke-width="0.3" textLength="168" lengthAdjust="spacingAndGlyphs"><tspan font-style="italic">MYC</tspan> IRES (4/20, 20%)</text>
<path d="M313.6 925.5A181.5 181.5 0 0 0 145.87 1037.52" stroke="#ef8b45" stroke-width="17.1" fill="none"/>
<text x="319" y="931" font-size="15.6" fill="#ec8a45" stroke="#ec8a45" stroke-width="0.3" textLength="176" lengthAdjust="spacingAndGlyphs">Pre-miR155 (5/20, 25%)</text>
<path d="M313.6 946.4A160.6 160.6 0 0 0 183.63 1012.57" stroke="#ebbf3f" stroke-width="17.1" fill="none"/>
<text x="319" y="951.9" font-size="15.6" fill="#e6b93b" stroke="#e6b93b" stroke-width="0.3" textLength="204.9" lengthAdjust="spacingAndGlyphs">HOTAIR helix 7 (4/20, 20%)</text>
<path d="M313.6 967.2A139.8 139.8 0 0 0 222.84 1000.73" stroke="#5cb793" stroke-width="17.1" fill="none"/>
<text x="319" y="972.8" font-size="15.6" fill="#4fae8b" stroke="#4fae8b" stroke-width="0.3" textLength="206" lengthAdjust="spacingAndGlyphs">CAG expansion (3/20, 15%)</text>
<path d="M313.6 988.1A118.9 118.9 0 0 0 212.26 1169.10" stroke="#8bb3de" stroke-width="17.1" fill="none"/>
<text x="319" y="993.6" font-size="15.6" fill="#8db3df" stroke="#8db3df" stroke-width="0.3" textLength="188.3" lengthAdjust="spacingAndGlyphs">HIV-1 RRE IIb (9/20, 45%)</text>
<path d="M313.6 1009A98 98 0 0 0 269.13 1019.73" stroke="#3c62b0" stroke-width="17.1" fill="none"/>
<text x="319" y="1014.5" font-size="15.6" fill="#2f55a4" stroke="#2f55a4" stroke-width="0.3" textLength="213.5" lengthAdjust="spacingAndGlyphs">SARS-CoV-2-SL1 (2/20, 10%)</text>
<path d="M313.6 1030A77.1 77.1 0 0 0 242.42 1077.51" stroke="#cc92c8" stroke-width="17.1" fill="none"/>
<text x="319" y="1035.5" font-size="15.6" fill="#cf98cc" stroke="#cf98cc" stroke-width="0.3" textLength="237.2" lengthAdjust="spacingAndGlyphs">SARS-CoV-2-SL2&amp;3 (5/10, 50%)</text>
<text x="319" y="1056.3" font-size="15.6" fill="#dd5f7c" stroke="#dd5f7c" stroke-width="0.3" textLength="211.7" lengthAdjust="spacingAndGlyphs">SARS-CoV-2-SL4 (0/20, 0%)</text>
<path d="M313.6 1071.8A35.3 35.3 0 0 0 305.37 1072.72" stroke="#8a3d24" stroke-width="17.1" fill="none"/>
<text x="319" y="1077.2" font-size="15.6" fill="#8a3d24" stroke="#8a3d24" stroke-width="0.3" textLength="214.7" lengthAdjust="spacingAndGlyphs">SARS-CoV-2-SL5a (1/20, 5%)</text>
<path d="M313.6 1092.7A14.4 14.4 0 0 0 299.29 1108.13" stroke="#9d9d9d" stroke-width="17.1" fill="none"/>
<text x="319" y="1098.2" font-size="15.6" fill="#8a8a8a" stroke="#8a8a8a" stroke-width="0.3" textLength="226.7" lengthAdjust="spacingAndGlyphs">SARS-CoV-2-SL5b (7/20, 35%)</text>
<text x="161.2" y="1360.9" font-size="21.5" fill="#111" stroke="#111" stroke-width="0.3" textLength="247" lengthAdjust="spacingAndGlyphs">Average validation rate:</text>
<text x="415.1" y="1360.9" font-size="21.5" fill="#d0202e" stroke="#d0202e" stroke-width="0.3" textLength="54" lengthAdjust="spacingAndGlyphs">21.1%</text>
<!-- panel c -->
<path d="M1151.7 200.9h13.5v13.1h-13.5zM1168 200.9h13.5v13.1h-13.5zM1184.4 200.9h13.5v13.1h-13.5zM1200.8 200.9h13.5v13.1h-13.5zM1217.2 200.9h13.5v13.1h-13.5zM1233.6 200.9h13.5v13.1h-13.5zM1250 200.9h13.5v13.1h-13.5zM1266.4 200.9h13.5v13.1h-13.5zM1151.7 216.6h13.5v13.1h-13.5zM1168 216.6h13.5v13.1h-13.5zM1184.4 216.6h13.5v13.1h-13.5zM1200.8 216.6h13.5v13.1h-13.5zM1217.2 216.6h13.5v13.1h-13.5zM1233.6 216.6h13.5v13.1h-13.5zM1250 216.6h13.5v13.1h-13.5zM1266.4 216.6h13.5v13.1h-13.5zM1151.7 232.3h13.5v13.1h-13.5zM1168 232.3h13.5v13.1h-13.5zM1184.4 232.3h13.5v13.1h-13.5zM1200.8 232.3h13.5v13.1h-13.5zM1217.2 232.3h13.5v13.1h-13.5zM1233.6 232.3h13.5v13.1h-13.5zM1250 232.3h13.5v13.1h-13.5zM1266.4 232.3h13.5v13.1h-13.5zM1151.7 248h13.5v13.1h-13.5zM1168 248h13.5v13.1h-13.5zM1184.4 248h13.5v13.1h-13.5zM1200.8 248h13.5v13.1h-13.5zM1217.2 248h13.5v13.1h-13.5zM1233.6 248h13.5v13.1h-13.5zM1250 248h13.5v13.1h-13.5zM1266.4 248h13.5v13.1h-13.5zM1151.7 263.7h13.5v13.1h-13.5zM1168 263.7h13.5v13.1h-13.5zM1184.4 263.7h13.5v13.1h-13.5zM1200.8 263.7h13.5v13.1h-13.5zM1217.2 263.7h13.5v13.1h-13.5zM1233.6 263.7h13.5v13.1h-13.5zM1250 263.7h13.5v13.1h-13.5zM1266.4 263.7h13.5v13.1h-13.5zM1282.8 279.4h13.5v13.1h-13.5zM1299.2 279.4h13.5v13.1h-13.5zM1315.6 279.4h13.5v13.1h-13.5zM1331.9 279.4h13.5v13.1h-13.5zM1282.8 295.1h13.5v13.1h-13.5zM1299.2 295.1h13.5v13.1h-13.5zM1315.6 295.1h13.5v13.1h-13.5zM1331.9 295.1h13.5v13.1h-13.5zM1348.3 295.1h13.5v13.1h-13.5zM1282.8 310.8h13.5v13.1h-13.5zM1299.2 310.8h13.5v13.1h-13.5zM1315.6 310.8h13.5v13.1h-13.5zM1331.9 310.8h13.5v13.1h-13.5zM1348.3 310.8h13.5v13.1h-13.5zM1364.7 326.6h13.5v13.1h-13.5zM1381.1 326.6h13.5v13.1h-13.5zM1397.5 326.6h13.5v13.1h-13.5zM1151.7 373.7h13.5v13.1h-13.5zM1168 373.7h13.5v13.1h-13.5zM1184.4 373.7h13.5v13.1h-13.5zM1200.8 373.7h13.5v13.1h-13.5zM1217.2 373.7h13.5v13.1h-13.5zM1233.6 373.7h13.5v13.1h-13.5zM1250 373.7h13.5v13.1h-13.5zM1266.4 373.7h13.5v13.1h-13.5zM1364.7 373.7h13.5v13.1h-13.5zM1381.1 373.7h13.5v13.1h-13.5zM1397.5 373.7h13.5v13.1h-13.5zM1151.7 389.4h13.5v13.1h-13.5zM1168 389.4h13.5v13.1h-13.5zM1184.4 389.4h13.5v13.1h-13.5zM1200.8 389.4h13.5v13.1h-13.5zM1217.2 389.4h13.5v13.1h-13.5zM1233.6 389.4h13.5v13.1h-13.5zM1250 389.4h13.5v13.1h-13.5zM1266.4 389.4h13.5v13.1h-13.5zM1364.7 389.4h13.5v13.1h-13.5zM1381.1 389.4h13.5v13.1h-13.5zM1397.5 389.4h13.5v13.1h-13.5zM1151.7 420.8h13.5v13.1h-13.5zM1168 420.8h13.5v13.1h-13.5zM1184.4 420.8h13.5v13.1h-13.5zM1200.8 420.8h13.5v13.1h-13.5zM1217.2 420.8h13.5v13.1h-13.5zM1233.6 420.8h13.5v13.1h-13.5zM1250 420.8h13.5v13.1h-13.5zM1266.4 420.8h13.5v13.1h-13.5zM1364.7 420.8h13.5v13.1h-13.5zM1381.1 420.8h13.5v13.1h-13.5zM1397.5 420.8h13.5v13.1h-13.5zM1151.7 436.5h13.5v13.1h-13.5zM1168 436.5h13.5v13.1h-13.5zM1184.4 436.5h13.5v13.1h-13.5zM1200.8 436.5h13.5v13.1h-13.5zM1217.2 436.5h13.5v13.1h-13.5zM1233.6 436.5h13.5v13.1h-13.5zM1250 436.5h13.5v13.1h-13.5zM1266.4 436.5h13.5v13.1h-13.5zM1364.7 436.5h13.5v13.1h-13.5zM1381.1 436.5h13.5v13.1h-13.5zM1397.5 436.5h13.5v13.1h-13.5zM1151.7 452.2h13.5v13.1h-13.5zM1168 452.2h13.5v13.1h-13.5zM1184.4 452.2h13.5v13.1h-13.5zM1200.8 452.2h13.5v13.1h-13.5zM1217.2 452.2h13.5v13.1h-13.5zM1233.6 452.2h13.5v13.1h-13.5zM1250 452.2h13.5v13.1h-13.5zM1266.4 452.2h13.5v13.1h-13.5zM1364.7 452.2h13.5v13.1h-13.5zM1381.1 452.2h13.5v13.1h-13.5zM1397.5 452.2h13.5v13.1h-13.5zM1282.8 467.9h13.5v13.1h-13.5zM1299.2 467.9h13.5v13.1h-13.5zM1315.6 467.9h13.5v13.1h-13.5zM1331.9 467.9h13.5v13.1h-13.5zM1348.3 467.9h13.5v13.1h-13.5zM1413.9 467.9h13.5v13.1h-13.5zM1430.3 467.9h13.5v13.1h-13.5zM1446.7 467.9h13.5v13.1h-13.5zM1463.1 467.9h13.5v13.1h-13.5zM1512.2 467.9h13.5v13.1h-13.5zM1528.6 467.9h13.5v13.1h-13.5zM1545 467.9h13.5v13.1h-13.5zM1282.8 483.7h13.5v13.1h-13.5zM1299.2 483.7h13.5v13.1h-13.5zM1315.6 483.7h13.5v13.1h-13.5zM1331.9 483.7h13.5v13.1h-13.5zM1348.3 483.7h13.5v13.1h-13.5zM1413.9 483.7h13.5v13.1h-13.5zM1430.3 483.7h13.5v13.1h-13.5zM1446.7 483.7h13.5v13.1h-13.5zM1463.1 483.7h13.5v13.1h-13.5zM1479.5 483.7h13.5v13.1h-13.5zM1512.2 483.7h13.5v13.1h-13.5zM1528.6 483.7h13.5v13.1h-13.5zM1545 483.7h13.5v13.1h-13.5zM1151.7 530.8h13.5v13.1h-13.5zM1168 530.8h13.5v13.1h-13.5zM1184.4 530.8h13.5v13.1h-13.5zM1200.8 530.8h13.5v13.1h-13.5zM1217.2 530.8h13.5v13.1h-13.5zM1233.6 530.8h13.5v13.1h-13.5zM1250 530.8h13.5v13.1h-13.5zM1266.4 530.8h13.5v13.1h-13.5zM1364.7 530.8h13.5v13.1h-13.5zM1381.1 530.8h13.5v13.1h-13.5zM1397.5 530.8h13.5v13.1h-13.5zM1561.4 530.8h13.5v13.1h-13.5zM1577.8 530.8h13.5v13.1h-13.5zM1282.8 577.9h13.5v13.1h-13.5zM1299.2 577.9h13.5v13.1h-13.5zM1315.6 577.9h13.5v13.1h-13.5zM1331.9 577.9h13.5v13.1h-13.5zM1348.3 577.9h13.5v13.1h-13.5zM1413.9 577.9h13.5v13.1h-13.5zM1430.3 577.9h13.5v13.1h-13.5zM1446.7 577.9h13.5v13.1h-13.5zM1463.1 577.9h13.5v13.1h-13.5zM1479.5 577.9h13.5v13.1h-13.5zM1512.2 577.9h13.5v13.1h-13.5zM1528.6 577.9h13.5v13.1h-13.5zM1545 577.9h13.5v13.1h-13.5zM1627 577.9h13.5v13.1h-13.5zM1282.8 593.6h13.5v13.1h-13.5zM1299.2 593.6h13.5v13.1h-13.5zM1315.6 593.6h13.5v13.1h-13.5zM1331.9 593.6h13.5v13.1h-13.5zM1348.3 593.6h13.5v13.1h-13.5zM1413.9 593.6h13.5v13.1h-13.5zM1430.3 593.6h13.5v13.1h-13.5zM1446.7 593.6h13.5v13.1h-13.5zM1463.1 593.6h13.5v13.1h-13.5zM1479.5 593.6h13.5v13.1h-13.5zM1512.2 593.6h13.5v13.1h-13.5zM1528.6 593.6h13.5v13.1h-13.5zM1545 593.6h13.5v13.1h-13.5zM1282.8 609.3h13.5v13.1h-13.5zM1299.2 609.3h13.5v13.1h-13.5zM1315.6 609.3h13.5v13.1h-13.5zM1331.9 609.3h13.5v13.1h-13.5zM1348.3 609.3h13.5v13.1h-13.5zM1413.9 609.3h13.5v13.1h-13.5zM1430.3 609.3h13.5v13.1h-13.5zM1446.7 609.3h13.5v13.1h-13.5zM1463.1 609.3h13.5v13.1h-13.5zM1512.2 609.3h13.5v13.1h-13.5zM1528.6 609.3h13.5v13.1h-13.5zM1545 609.3h13.5v13.1h-13.5zM1282.8 625.1h13.5v13.1h-13.5zM1299.2 625.1h13.5v13.1h-13.5zM1315.6 625.1h13.5v13.1h-13.5zM1331.9 625.1h13.5v13.1h-13.5zM1348.3 625.1h13.5v13.1h-13.5zM1413.9 625.1h13.5v13.1h-13.5zM1430.3 625.1h13.5v13.1h-13.5zM1446.7 625.1h13.5v13.1h-13.5zM1463.1 625.1h13.5v13.1h-13.5zM1479.5 625.1h13.5v13.1h-13.5zM1512.2 625.1h13.5v13.1h-13.5zM1528.6 625.1h13.5v13.1h-13.5zM1545 625.1h13.5v13.1h-13.5zM1282.8 640.8h13.5v13.1h-13.5zM1299.2 640.8h13.5v13.1h-13.5zM1315.6 640.8h13.5v13.1h-13.5zM1331.9 640.8h13.5v13.1h-13.5zM1348.3 640.8h13.5v13.1h-13.5zM1413.9 640.8h13.5v13.1h-13.5zM1430.3 640.8h13.5v13.1h-13.5zM1446.7 640.8h13.5v13.1h-13.5zM1463.1 640.8h13.5v13.1h-13.5zM1512.2 640.8h13.5v13.1h-13.5zM1528.6 640.8h13.5v13.1h-13.5zM1545 640.8h13.5v13.1h-13.5zM1282.8 656.5h13.5v13.1h-13.5zM1299.2 656.5h13.5v13.1h-13.5zM1315.6 656.5h13.5v13.1h-13.5zM1331.9 656.5h13.5v13.1h-13.5zM1348.3 656.5h13.5v13.1h-13.5zM1413.9 656.5h13.5v13.1h-13.5zM1430.3 656.5h13.5v13.1h-13.5zM1446.7 656.5h13.5v13.1h-13.5zM1463.1 656.5h13.5v13.1h-13.5zM1512.2 656.5h13.5v13.1h-13.5zM1528.6 656.5h13.5v13.1h-13.5zM1545 656.5h13.5v13.1h-13.5zM1282.8 672.2h13.5v13.1h-13.5zM1299.2 672.2h13.5v13.1h-13.5zM1315.6 672.2h13.5v13.1h-13.5zM1331.9 672.2h13.5v13.1h-13.5zM1348.3 672.2h13.5v13.1h-13.5zM1413.9 672.2h13.5v13.1h-13.5zM1430.3 672.2h13.5v13.1h-13.5zM1446.7 672.2h13.5v13.1h-13.5zM1463.1 672.2h13.5v13.1h-13.5zM1512.2 672.2h13.5v13.1h-13.5zM1528.6 672.2h13.5v13.1h-13.5zM1545 672.2h13.5v13.1h-13.5zM1282.8 687.9h13.5v13.1h-13.5zM1299.2 687.9h13.5v13.1h-13.5zM1315.6 687.9h13.5v13.1h-13.5zM1331.9 687.9h13.5v13.1h-13.5zM1348.3 687.9h13.5v13.1h-13.5zM1413.9 687.9h13.5v13.1h-13.5zM1430.3 687.9h13.5v13.1h-13.5zM1446.7 687.9h13.5v13.1h-13.5zM1463.1 687.9h13.5v13.1h-13.5zM1512.2 687.9h13.5v13.1h-13.5zM1528.6 687.9h13.5v13.1h-13.5zM1545 687.9h13.5v13.1h-13.5z" fill="#f1f7ea"/>
<path d="M1151.7 90.9h13.5v13.1h-13.5zM1348.3 279.4h13.5v13.1h-13.5zM1151.7 326.6h13.5v13.1h-13.5zM1168 326.6h13.5v13.1h-13.5zM1184.4 326.6h13.5v13.1h-13.5zM1200.8 326.6h13.5v13.1h-13.5zM1217.2 326.6h13.5v13.1h-13.5zM1233.6 326.6h13.5v13.1h-13.5zM1250 326.6h13.5v13.1h-13.5zM1266.4 326.6h13.5v13.1h-13.5zM1282.8 326.6h13.5v13.1h-13.5zM1151.7 342.3h13.5v13.1h-13.5zM1168 342.3h13.5v13.1h-13.5zM1184.4 342.3h13.5v13.1h-13.5zM1200.8 342.3h13.5v13.1h-13.5zM1217.2 342.3h13.5v13.1h-13.5zM1233.6 342.3h13.5v13.1h-13.5zM1250 342.3h13.5v13.1h-13.5zM1266.4 342.3h13.5v13.1h-13.5zM1282.8 342.3h13.5v13.1h-13.5zM1364.7 342.3h13.5v13.1h-13.5zM1381.1 342.3h13.5v13.1h-13.5zM1397.5 342.3h13.5v13.1h-13.5zM1151.7 358h13.5v13.1h-13.5zM1168 358h13.5v13.1h-13.5zM1184.4 358h13.5v13.1h-13.5zM1200.8 358h13.5v13.1h-13.5zM1217.2 358h13.5v13.1h-13.5zM1233.6 358h13.5v13.1h-13.5zM1250 358h13.5v13.1h-13.5zM1266.4 358h13.5v13.1h-13.5zM1282.8 358h13.5v13.1h-13.5zM1364.7 358h13.5v13.1h-13.5zM1381.1 358h13.5v13.1h-13.5zM1397.5 358h13.5v13.1h-13.5zM1282.8 405.1h13.5v13.1h-13.5zM1315.6 405.1h13.5v13.1h-13.5zM1331.9 405.1h13.5v13.1h-13.5zM1381.1 405.1h13.5v13.1h-13.5zM1397.5 405.1h13.5v13.1h-13.5zM1413.9 405.1h13.5v13.1h-13.5zM1463.1 405.1h13.5v13.1h-13.5zM1479.5 405.1h13.5v13.1h-13.5zM1495.8 420.8h13.5v13.1h-13.5zM1495.8 436.5h13.5v13.1h-13.5zM1381.1 467.9h13.5v13.1h-13.5zM1479.5 467.9h13.5v13.1h-13.5zM1381.1 483.7h13.5v13.1h-13.5zM1151.7 499.4h13.5v13.1h-13.5zM1168 499.4h13.5v13.1h-13.5zM1184.4 499.4h13.5v13.1h-13.5zM1200.8 499.4h13.5v13.1h-13.5zM1217.2 499.4h13.5v13.1h-13.5zM1233.6 499.4h13.5v13.1h-13.5zM1250 499.4h13.5v13.1h-13.5zM1266.4 499.4h13.5v13.1h-13.5zM1364.7 499.4h13.5v13.1h-13.5zM1381.1 499.4h13.5v13.1h-13.5zM1397.5 499.4h13.5v13.1h-13.5zM1561.4 499.4h13.5v13.1h-13.5zM1577.8 499.4h13.5v13.1h-13.5zM1151.7 515.1h13.5v13.1h-13.5zM1168 515.1h13.5v13.1h-13.5zM1184.4 515.1h13.5v13.1h-13.5zM1200.8 515.1h13.5v13.1h-13.5zM1217.2 515.1h13.5v13.1h-13.5zM1233.6 515.1h13.5v13.1h-13.5zM1250 515.1h13.5v13.1h-13.5zM1266.4 515.1h13.5v13.1h-13.5zM1282.8 515.1h13.5v13.1h-13.5zM1364.7 515.1h13.5v13.1h-13.5zM1381.1 515.1h13.5v13.1h-13.5zM1397.5 515.1h13.5v13.1h-13.5zM1561.4 515.1h13.5v13.1h-13.5zM1577.8 515.1h13.5v13.1h-13.5zM1495.8 530.8h13.5v13.1h-13.5zM1151.7 546.5h13.5v13.1h-13.5zM1168 546.5h13.5v13.1h-13.5zM1184.4 546.5h13.5v13.1h-13.5zM1200.8 546.5h13.5v13.1h-13.5zM1217.2 546.5h13.5v13.1h-13.5zM1233.6 546.5h13.5v13.1h-13.5zM1250 546.5h13.5v13.1h-13.5zM1266.4 546.5h13.5v13.1h-13.5zM1364.7 546.5h13.5v13.1h-13.5zM1381.1 546.5h13.5v13.1h-13.5zM1397.5 546.5h13.5v13.1h-13.5zM1561.4 546.5h13.5v13.1h-13.5zM1577.8 546.5h13.5v13.1h-13.5zM1151.7 562.2h13.5v13.1h-13.5zM1168 562.2h13.5v13.1h-13.5zM1184.4 562.2h13.5v13.1h-13.5zM1200.8 562.2h13.5v13.1h-13.5zM1217.2 562.2h13.5v13.1h-13.5zM1233.6 562.2h13.5v13.1h-13.5zM1250 562.2h13.5v13.1h-13.5zM1266.4 562.2h13.5v13.1h-13.5zM1282.8 562.2h13.5v13.1h-13.5zM1364.7 562.2h13.5v13.1h-13.5zM1381.1 562.2h13.5v13.1h-13.5zM1397.5 562.2h13.5v13.1h-13.5zM1413.9 562.2h13.5v13.1h-13.5zM1495.8 562.2h13.5v13.1h-13.5zM1561.4 562.2h13.5v13.1h-13.5zM1577.8 562.2h13.5v13.1h-13.5zM1594.2 577.9h13.5v13.1h-13.5zM1610.6 577.9h13.5v13.1h-13.5zM1643.4 577.9h13.5v13.1h-13.5zM1659.7 577.9h13.5v13.1h-13.5zM1168 593.6h13.5v13.1h-13.5zM1495.8 593.6h13.5v13.1h-13.5zM1594.2 593.6h13.5v13.1h-13.5zM1610.6 593.6h13.5v13.1h-13.5zM1627 593.6h13.5v13.1h-13.5zM1643.4 593.6h13.5v13.1h-13.5zM1659.7 593.6h13.5v13.1h-13.5zM1479.5 609.3h13.5v13.1h-13.5zM1594.2 609.3h13.5v13.1h-13.5zM1610.6 609.3h13.5v13.1h-13.5zM1627 609.3h13.5v13.1h-13.5zM1643.4 609.3h13.5v13.1h-13.5zM1659.7 609.3h13.5v13.1h-13.5zM1495.8 625.1h13.5v13.1h-13.5zM1594.2 625.1h13.5v13.1h-13.5zM1610.6 625.1h13.5v13.1h-13.5zM1627 625.1h13.5v13.1h-13.5zM1643.4 625.1h13.5v13.1h-13.5zM1659.7 625.1h13.5v13.1h-13.5zM1479.5 640.8h13.5v13.1h-13.5zM1594.2 640.8h13.5v13.1h-13.5zM1610.6 640.8h13.5v13.1h-13.5zM1627 640.8h13.5v13.1h-13.5zM1643.4 640.8h13.5v13.1h-13.5zM1659.7 640.8h13.5v13.1h-13.5zM1479.5 656.5h13.5v13.1h-13.5zM1594.2 656.5h13.5v13.1h-13.5zM1610.6 656.5h13.5v13.1h-13.5zM1627 656.5h13.5v13.1h-13.5zM1643.4 656.5h13.5v13.1h-13.5zM1659.7 656.5h13.5v13.1h-13.5zM1479.5 672.2h13.5v13.1h-13.5zM1495.8 672.2h13.5v13.1h-13.5zM1594.2 672.2h13.5v13.1h-13.5zM1610.6 672.2h13.5v13.1h-13.5zM1627 672.2h13.5v13.1h-13.5zM1643.4 672.2h13.5v13.1h-13.5zM1659.7 672.2h13.5v13.1h-13.5zM1479.5 687.9h13.5v13.1h-13.5zM1594.2 687.9h13.5v13.1h-13.5zM1610.6 687.9h13.5v13.1h-13.5zM1627 687.9h13.5v13.1h-13.5zM1643.4 687.9h13.5v13.1h-13.5zM1659.7 687.9h13.5v13.1h-13.5z" fill="#e7f3df"/>
<path d="M1168 106.6h13.5v13.1h-13.5zM1151.7 122.3h13.5v13.1h-13.5zM1168 122.3h13.5v13.1h-13.5zM1168 138h13.5v13.1h-13.5zM1168 153.8h13.5v13.1h-13.5zM1168 169.5h13.5v13.1h-13.5zM1168 185.2h13.5v13.1h-13.5zM1282.8 216.6h13.5v13.1h-13.5zM1282.8 232.3h13.5v13.1h-13.5zM1282.8 248h13.5v13.1h-13.5zM1282.8 263.7h13.5v13.1h-13.5zM1168 279.4h13.5v13.1h-13.5zM1151.7 295.1h13.5v13.1h-13.5zM1168 295.1h13.5v13.1h-13.5zM1184.4 295.1h13.5v13.1h-13.5zM1200.8 295.1h13.5v13.1h-13.5zM1217.2 295.1h13.5v13.1h-13.5zM1233.6 295.1h13.5v13.1h-13.5zM1250 295.1h13.5v13.1h-13.5zM1266.4 295.1h13.5v13.1h-13.5zM1364.7 295.1h13.5v13.1h-13.5zM1151.7 310.8h13.5v13.1h-13.5zM1168 310.8h13.5v13.1h-13.5zM1200.8 310.8h13.5v13.1h-13.5zM1381.1 310.8h13.5v13.1h-13.5zM1299.2 326.6h13.5v13.1h-13.5zM1315.6 326.6h13.5v13.1h-13.5zM1331.9 326.6h13.5v13.1h-13.5zM1348.3 326.6h13.5v13.1h-13.5zM1348.3 342.3h13.5v13.1h-13.5zM1413.9 342.3h13.5v13.1h-13.5zM1299.2 358h13.5v13.1h-13.5zM1315.6 358h13.5v13.1h-13.5zM1331.9 358h13.5v13.1h-13.5zM1348.3 358h13.5v13.1h-13.5zM1413.9 358h13.5v13.1h-13.5zM1430.3 358h13.5v13.1h-13.5zM1348.3 373.7h13.5v13.1h-13.5zM1413.9 373.7h13.5v13.1h-13.5zM1430.3 373.7h13.5v13.1h-13.5zM1446.7 373.7h13.5v13.1h-13.5zM1282.8 389.4h13.5v13.1h-13.5zM1348.3 389.4h13.5v13.1h-13.5zM1413.9 389.4h13.5v13.1h-13.5zM1446.7 389.4h13.5v13.1h-13.5zM1463.1 389.4h13.5v13.1h-13.5zM1151.7 405.1h13.5v13.1h-13.5zM1168 405.1h13.5v13.1h-13.5zM1184.4 405.1h13.5v13.1h-13.5zM1200.8 405.1h13.5v13.1h-13.5zM1217.2 405.1h13.5v13.1h-13.5zM1233.6 405.1h13.5v13.1h-13.5zM1250 405.1h13.5v13.1h-13.5zM1266.4 405.1h13.5v13.1h-13.5zM1299.2 405.1h13.5v13.1h-13.5zM1348.3 405.1h13.5v13.1h-13.5zM1364.7 405.1h13.5v13.1h-13.5zM1430.3 405.1h13.5v13.1h-13.5zM1446.7 405.1h13.5v13.1h-13.5zM1282.8 420.8h13.5v13.1h-13.5zM1413.9 420.8h13.5v13.1h-13.5zM1430.3 420.8h13.5v13.1h-13.5zM1446.7 420.8h13.5v13.1h-13.5zM1282.8 436.5h13.5v13.1h-13.5zM1413.9 436.5h13.5v13.1h-13.5zM1446.7 436.5h13.5v13.1h-13.5zM1282.8 452.2h13.5v13.1h-13.5zM1413.9 452.2h13.5v13.1h-13.5zM1495.8 452.2h13.5v13.1h-13.5zM1512.2 452.2h13.5v13.1h-13.5zM1168 467.9h13.5v13.1h-13.5zM1397.5 467.9h13.5v13.1h-13.5zM1495.8 467.9h13.5v13.1h-13.5zM1168 483.7h13.5v13.1h-13.5zM1495.8 483.7h13.5v13.1h-13.5zM1282.8 499.4h13.5v13.1h-13.5zM1413.9 499.4h13.5v13.1h-13.5zM1495.8 499.4h13.5v13.1h-13.5zM1512.2 499.4h13.5v13.1h-13.5zM1348.3 515.1h13.5v13.1h-13.5zM1413.9 515.1h13.5v13.1h-13.5zM1446.7 515.1h13.5v13.1h-13.5zM1463.1 515.1h13.5v13.1h-13.5zM1495.8 515.1h13.5v13.1h-13.5zM1512.2 515.1h13.5v13.1h-13.5zM1282.8 530.8h13.5v13.1h-13.5zM1413.9 530.8h13.5v13.1h-13.5zM1446.7 530.8h13.5v13.1h-13.5zM1282.8 546.5h13.5v13.1h-13.5zM1413.9 546.5h13.5v13.1h-13.5zM1495.8 546.5h13.5v13.1h-13.5zM1299.2 562.2h13.5v13.1h-13.5zM1315.6 562.2h13.5v13.1h-13.5zM1331.9 562.2h13.5v13.1h-13.5zM1348.3 562.2h13.5v13.1h-13.5zM1430.3 562.2h13.5v13.1h-13.5zM1446.7 562.2h13.5v13.1h-13.5zM1463.1 562.2h13.5v13.1h-13.5zM1479.5 562.2h13.5v13.1h-13.5zM1512.2 562.2h13.5v13.1h-13.5zM1528.6 562.2h13.5v13.1h-13.5zM1545 562.2h13.5v13.1h-13.5zM1594.2 562.2h13.5v13.1h-13.5zM1610.6 562.2h13.5v13.1h-13.5zM1627 562.2h13.5v13.1h-13.5zM1643.4 562.2h13.5v13.1h-13.5zM1381.1 577.9h13.5v13.1h-13.5zM1495.8 577.9h13.5v13.1h-13.5zM1200.8 593.6h13.5v13.1h-13.5zM1381.1 593.6h13.5v13.1h-13.5zM1397.5 593.6h13.5v13.1h-13.5zM1168 609.3h13.5v13.1h-13.5zM1200.8 609.3h13.5v13.1h-13.5zM1495.8 609.3h13.5v13.1h-13.5zM1168 625.1h13.5v13.1h-13.5zM1381.1 625.1h13.5v13.1h-13.5zM1397.5 625.1h13.5v13.1h-13.5zM1168 640.8h13.5v13.1h-13.5zM1200.8 640.8h13.5v13.1h-13.5zM1495.8 640.8h13.5v13.1h-13.5zM1168 656.5h13.5v13.1h-13.5zM1381.1 656.5h13.5v13.1h-13.5zM1495.8 656.5h13.5v13.1h-13.5zM1168 672.2h13.5v13.1h-13.5zM1184.4 672.2h13.5v13.1h-13.5zM1217.2 672.2h13.5v13.1h-13.5zM1233.6 672.2h13.5v13.1h-13.5zM1250 672.2h13.5v13.1h-13.5zM1266.4 672.2h13.5v13.1h-13.5zM1364.7 672.2h13.5v13.1h-13.5zM1381.1 672.2h13.5v13.1h-13.5zM1397.5 672.2h13.5v13.1h-13.5zM1561.4 672.2h13.5v13.1h-13.5zM1577.8 672.2h13.5v13.1h-13.5zM1676.1 672.2h13.5v13.1h-13.5zM1692.5 672.2h13.5v13.1h-13.5zM1708.9 672.2h13.5v13.1h-13.5zM1741.7 672.2h13.5v13.1h-13.5zM1758.1 672.2h13.5v13.1h-13.5zM1168 687.9h13.5v13.1h-13.5zM1381.1 687.9h13.5v13.1h-13.5zM1495.8 687.9h13.5v13.1h-13.5zM1774.5 687.9h13.5v13.1h-13.5z" fill="#d6ebd0"/>
<path d="M1151.7 106.6h13.5v13.1h-13.5zM1184.4 122.3h13.5v13.1h-13.5zM1151.7 138h13.5v13.1h-13.5zM1200.8 138h13.5v13.1h-13.5zM1151.7 153.8h13.5v13.1h-13.5zM1200.8 153.8h13.5v13.1h-13.5zM1151.7 169.5h13.5v13.1h-13.5zM1200.8 169.5h13.5v13.1h-13.5zM1151.7 185.2h13.5v13.1h-13.5zM1200.8 185.2h13.5v13.1h-13.5zM1299.2 263.7h13.5v13.1h-13.5zM1315.6 263.7h13.5v13.1h-13.5zM1331.9 263.7h13.5v13.1h-13.5zM1151.7 279.4h13.5v13.1h-13.5zM1184.4 279.4h13.5v13.1h-13.5zM1200.8 279.4h13.5v13.1h-13.5zM1184.4 310.8h13.5v13.1h-13.5zM1217.2 310.8h13.5v13.1h-13.5zM1233.6 310.8h13.5v13.1h-13.5zM1250 310.8h13.5v13.1h-13.5zM1266.4 310.8h13.5v13.1h-13.5zM1364.7 310.8h13.5v13.1h-13.5zM1315.6 342.3h13.5v13.1h-13.5zM1331.9 342.3h13.5v13.1h-13.5zM1282.8 373.7h13.5v13.1h-13.5zM1299.2 373.7h13.5v13.1h-13.5zM1315.6 373.7h13.5v13.1h-13.5zM1331.9 373.7h13.5v13.1h-13.5zM1348.3 420.8h13.5v13.1h-13.5zM1463.1 420.8h13.5v13.1h-13.5zM1479.5 420.8h13.5v13.1h-13.5zM1348.3 436.5h13.5v13.1h-13.5zM1463.1 436.5h13.5v13.1h-13.5zM1512.2 436.5h13.5v13.1h-13.5zM1315.6 452.2h13.5v13.1h-13.5zM1331.9 452.2h13.5v13.1h-13.5zM1348.3 452.2h13.5v13.1h-13.5zM1446.7 452.2h13.5v13.1h-13.5zM1463.1 452.2h13.5v13.1h-13.5zM1479.5 452.2h13.5v13.1h-13.5zM1528.6 452.2h13.5v13.1h-13.5zM1151.7 467.9h13.5v13.1h-13.5zM1200.8 467.9h13.5v13.1h-13.5zM1364.7 467.9h13.5v13.1h-13.5zM1151.7 483.7h13.5v13.1h-13.5zM1200.8 483.7h13.5v13.1h-13.5zM1397.5 483.7h13.5v13.1h-13.5zM1315.6 499.4h13.5v13.1h-13.5zM1331.9 499.4h13.5v13.1h-13.5zM1348.3 499.4h13.5v13.1h-13.5zM1446.7 499.4h13.5v13.1h-13.5zM1463.1 499.4h13.5v13.1h-13.5zM1315.6 515.1h13.5v13.1h-13.5zM1331.9 515.1h13.5v13.1h-13.5zM1348.3 530.8h13.5v13.1h-13.5zM1315.6 546.5h13.5v13.1h-13.5zM1331.9 546.5h13.5v13.1h-13.5zM1348.3 546.5h13.5v13.1h-13.5zM1446.7 546.5h13.5v13.1h-13.5zM1463.1 546.5h13.5v13.1h-13.5zM1479.5 546.5h13.5v13.1h-13.5zM1512.2 546.5h13.5v13.1h-13.5zM1528.6 546.5h13.5v13.1h-13.5zM1168 577.9h13.5v13.1h-13.5zM1200.8 577.9h13.5v13.1h-13.5zM1397.5 577.9h13.5v13.1h-13.5zM1184.4 593.6h13.5v13.1h-13.5zM1217.2 593.6h13.5v13.1h-13.5zM1233.6 593.6h13.5v13.1h-13.5zM1250 593.6h13.5v13.1h-13.5zM1266.4 593.6h13.5v13.1h-13.5zM1364.7 593.6h13.5v13.1h-13.5zM1561.4 593.6h13.5v13.1h-13.5zM1577.8 593.6h13.5v13.1h-13.5zM1151.7 609.3h13.5v13.1h-13.5zM1364.7 609.3h13.5v13.1h-13.5zM1381.1 609.3h13.5v13.1h-13.5zM1397.5 609.3h13.5v13.1h-13.5zM1676.1 609.3h13.5v13.1h-13.5zM1692.5 609.3h13.5v13.1h-13.5zM1151.7 625.1h13.5v13.1h-13.5zM1184.4 625.1h13.5v13.1h-13.5zM1217.2 625.1h13.5v13.1h-13.5zM1233.6 625.1h13.5v13.1h-13.5zM1250 625.1h13.5v13.1h-13.5zM1266.4 625.1h13.5v13.1h-13.5zM1364.7 625.1h13.5v13.1h-13.5zM1561.4 625.1h13.5v13.1h-13.5zM1577.8 625.1h13.5v13.1h-13.5zM1676.1 625.1h13.5v13.1h-13.5zM1692.5 625.1h13.5v13.1h-13.5zM1708.9 625.1h13.5v13.1h-13.5zM1151.7 640.8h13.5v13.1h-13.5zM1381.1 640.8h13.5v13.1h-13.5zM1397.5 640.8h13.5v13.1h-13.5zM1692.5 640.8h13.5v13.1h-13.5zM1725.3 640.8h13.5v13.1h-13.5zM1151.7 656.5h13.5v13.1h-13.5zM1200.8 656.5h13.5v13.1h-13.5zM1397.5 656.5h13.5v13.1h-13.5zM1692.5 656.5h13.5v13.1h-13.5zM1725.3 656.5h13.5v13.1h-13.5zM1151.7 672.2h13.5v13.1h-13.5zM1200.8 672.2h13.5v13.1h-13.5zM1725.3 672.2h13.5v13.1h-13.5zM1151.7 687.9h13.5v13.1h-13.5zM1200.8 687.9h13.5v13.1h-13.5zM1397.5 687.9h13.5v13.1h-13.5zM1692.5 687.9h13.5v13.1h-13.5zM1725.3 687.9h13.5v13.1h-13.5z" fill="#c4e4c3"/>
<path d="M1184.4 138h13.5v13.1h-13.5zM1184.4 153.8h13.5v13.1h-13.5zM1184.4 185.2h13.5v13.1h-13.5zM1217.2 279.4h13.5v13.1h-13.5zM1233.6 279.4h13.5v13.1h-13.5zM1250 279.4h13.5v13.1h-13.5zM1266.4 279.4h13.5v13.1h-13.5zM1430.3 389.4h13.5v13.1h-13.5zM1299.2 420.8h13.5v13.1h-13.5zM1430.3 436.5h13.5v13.1h-13.5zM1299.2 452.2h13.5v13.1h-13.5zM1184.4 467.9h13.5v13.1h-13.5zM1184.4 483.7h13.5v13.1h-13.5zM1364.7 483.7h13.5v13.1h-13.5zM1479.5 499.4h13.5v13.1h-13.5zM1528.6 499.4h13.5v13.1h-13.5zM1479.5 515.1h13.5v13.1h-13.5zM1528.6 515.1h13.5v13.1h-13.5zM1463.1 530.8h13.5v13.1h-13.5zM1512.2 530.8h13.5v13.1h-13.5zM1545 530.8h13.5v13.1h-13.5zM1299.2 546.5h13.5v13.1h-13.5zM1627 546.5h13.5v13.1h-13.5zM1151.7 577.9h13.5v13.1h-13.5zM1184.4 577.9h13.5v13.1h-13.5zM1217.2 577.9h13.5v13.1h-13.5zM1233.6 577.9h13.5v13.1h-13.5zM1250 577.9h13.5v13.1h-13.5zM1266.4 577.9h13.5v13.1h-13.5zM1364.7 577.9h13.5v13.1h-13.5zM1561.4 577.9h13.5v13.1h-13.5zM1577.8 577.9h13.5v13.1h-13.5zM1676.1 593.6h13.5v13.1h-13.5zM1184.4 609.3h13.5v13.1h-13.5zM1184.4 640.8h13.5v13.1h-13.5zM1364.7 640.8h13.5v13.1h-13.5zM1676.1 640.8h13.5v13.1h-13.5zM1184.4 656.5h13.5v13.1h-13.5zM1364.7 656.5h13.5v13.1h-13.5zM1676.1 656.5h13.5v13.1h-13.5zM1708.9 656.5h13.5v13.1h-13.5zM1364.7 687.9h13.5v13.1h-13.5zM1708.9 687.9h13.5v13.1h-13.5z" fill="#a9dabb"/>
<path d="M1184.4 169.5h13.5v13.1h-13.5zM1299.2 232.3h13.5v13.1h-13.5zM1299.2 248h13.5v13.1h-13.5zM1299.2 342.3h13.5v13.1h-13.5zM1315.6 389.4h13.5v13.1h-13.5zM1331.9 389.4h13.5v13.1h-13.5zM1315.6 420.8h13.5v13.1h-13.5zM1331.9 420.8h13.5v13.1h-13.5zM1315.6 436.5h13.5v13.1h-13.5zM1331.9 436.5h13.5v13.1h-13.5zM1430.3 452.2h13.5v13.1h-13.5zM1299.2 499.4h13.5v13.1h-13.5zM1545 499.4h13.5v13.1h-13.5zM1299.2 515.1h13.5v13.1h-13.5zM1545 515.1h13.5v13.1h-13.5zM1430.3 530.8h13.5v13.1h-13.5zM1479.5 530.8h13.5v13.1h-13.5zM1528.6 530.8h13.5v13.1h-13.5zM1594.2 530.8h13.5v13.1h-13.5zM1610.6 530.8h13.5v13.1h-13.5zM1430.3 546.5h13.5v13.1h-13.5zM1545 546.5h13.5v13.1h-13.5zM1594.2 546.5h13.5v13.1h-13.5zM1610.6 546.5h13.5v13.1h-13.5zM1217.2 609.3h13.5v13.1h-13.5zM1233.6 609.3h13.5v13.1h-13.5zM1250 609.3h13.5v13.1h-13.5zM1266.4 609.3h13.5v13.1h-13.5zM1561.4 656.5h13.5v13.1h-13.5zM1741.7 656.5h13.5v13.1h-13.5zM1184.4 687.9h13.5v13.1h-13.5zM1561.4 687.9h13.5v13.1h-13.5zM1676.1 687.9h13.5v13.1h-13.5zM1741.7 687.9h13.5v13.1h-13.5z" fill="#8dd0bf"/>
<path d="M1299.2 389.4h13.5v13.1h-13.5zM1299.2 436.5h13.5v13.1h-13.5zM1217.2 467.9h13.5v13.1h-13.5zM1233.6 467.9h13.5v13.1h-13.5zM1250 467.9h13.5v13.1h-13.5zM1266.4 467.9h13.5v13.1h-13.5zM1561.4 483.7h13.5v13.1h-13.5zM1315.6 530.8h13.5v13.1h-13.5zM1331.9 530.8h13.5v13.1h-13.5zM1217.2 640.8h13.5v13.1h-13.5zM1233.6 640.8h13.5v13.1h-13.5zM1250 640.8h13.5v13.1h-13.5zM1266.4 640.8h13.5v13.1h-13.5zM1561.4 640.8h13.5v13.1h-13.5zM1577.8 640.8h13.5v13.1h-13.5zM1250 687.9h13.5v13.1h-13.5z" fill="#63b7c9"/>
<path d="M1217.2 169.5h13.5v13.1h-13.5zM1233.6 169.5h13.5v13.1h-13.5zM1250 185.2h13.5v13.1h-13.5zM1479.5 436.5h13.5v13.1h-13.5zM1250 483.7h13.5v13.1h-13.5z" fill="#2a7fba"/>
<path d="M1708.9 640.8h13.5v13.1h-13.5zM1758.1 687.9h13.5v13.1h-13.5z" fill="#1765ab"/>
<path d="M1151.7 75.2h13.5v13.1h-13.5zM1168 90.9h13.5v13.1h-13.5zM1184.4 106.6h13.5v13.1h-13.5zM1200.8 122.3h13.5v13.1h-13.5zM1217.2 138h13.5v13.1h-13.5zM1217.2 153.8h13.5v13.1h-13.5zM1233.6 153.8h13.5v13.1h-13.5zM1250 169.5h13.5v13.1h-13.5zM1217.2 185.2h13.5v13.1h-13.5zM1233.6 185.2h13.5v13.1h-13.5zM1266.4 185.2h13.5v13.1h-13.5zM1282.8 200.9h13.5v13.1h-13.5zM1299.2 216.6h13.5v13.1h-13.5zM1315.6 232.3h13.5v13.1h-13.5zM1315.6 248h13.5v13.1h-13.5zM1331.9 248h13.5v13.1h-13.5zM1348.3 263.7h13.5v13.1h-13.5zM1364.7 279.4h13.5v13.1h-13.5zM1381.1 295.1h13.5v13.1h-13.5zM1397.5 310.8h13.5v13.1h-13.5zM1413.9 326.6h13.5v13.1h-13.5zM1430.3 342.3h13.5v13.1h-13.5zM1446.7 358h13.5v13.1h-13.5zM1463.1 373.7h13.5v13.1h-13.5zM1479.5 389.4h13.5v13.1h-13.5zM1495.8 405.1h13.5v13.1h-13.5zM1512.2 420.8h13.5v13.1h-13.5zM1528.6 436.5h13.5v13.1h-13.5zM1545 452.2h13.5v13.1h-13.5zM1561.4 467.9h13.5v13.1h-13.5zM1217.2 483.7h13.5v13.1h-13.5zM1233.6 483.7h13.5v13.1h-13.5zM1266.4 483.7h13.5v13.1h-13.5zM1577.8 483.7h13.5v13.1h-13.5zM1430.3 499.4h13.5v13.1h-13.5zM1594.2 499.4h13.5v13.1h-13.5zM1430.3 515.1h13.5v13.1h-13.5zM1594.2 515.1h13.5v13.1h-13.5zM1610.6 515.1h13.5v13.1h-13.5zM1627 530.8h13.5v13.1h-13.5zM1643.4 546.5h13.5v13.1h-13.5zM1659.7 562.2h13.5v13.1h-13.5zM1676.1 577.9h13.5v13.1h-13.5zM1151.7 593.6h13.5v13.1h-13.5zM1692.5 593.6h13.5v13.1h-13.5zM1708.9 609.3h13.5v13.1h-13.5zM1200.8 625.1h13.5v13.1h-13.5zM1725.3 625.1h13.5v13.1h-13.5zM1741.7 640.8h13.5v13.1h-13.5zM1758.1 656.5h13.5v13.1h-13.5zM1774.5 672.2h13.5v13.1h-13.5zM1790.9 687.9h13.5v13.1h-13.5z" fill="#0a4088"/>
<path d="M1299.2 530.8h13.5v13.1h-13.5z" fill="#4a9fcb"/>
<path d="M1561.4 609.3h13.5v13.1h-13.5zM1577.8 609.3h13.5v13.1h-13.5zM1217.2 656.5h13.5v13.1h-13.5zM1233.6 656.5h13.5v13.1h-13.5zM1250 656.5h13.5v13.1h-13.5zM1266.4 656.5h13.5v13.1h-13.5zM1577.8 656.5h13.5v13.1h-13.5zM1217.2 687.9h13.5v13.1h-13.5zM1233.6 687.9h13.5v13.1h-13.5zM1266.4 687.9h13.5v13.1h-13.5zM1577.8 687.9h13.5v13.1h-13.5z" fill="#78c4c4"/>
<g font-size="13.6" text-anchor="end" fill="#111" stroke="#111" stroke-width="0.3">
<text x="1138.6" y="86.5" textLength="64" lengthAdjust="spacingAndGlyphs">3902-71-4</text>
<text x="1138.6" y="102.3" textLength="55.9" lengthAdjust="spacingAndGlyphs">149-30-4</text>
<text x="1138.6" y="118" textLength="66.1" lengthAdjust="spacingAndGlyphs">3606-45-9</text>
<text x="1138.6" y="133.7" textLength="66.1" lengthAdjust="spacingAndGlyphs">2447-54-3</text>
<text x="1138.6" y="149.4" textLength="74.2" lengthAdjust="spacingAndGlyphs">34369-07-8</text>
<text x="1138.6" y="165.1" textLength="58" lengthAdjust="spacingAndGlyphs">987-65-6</text>
<text x="1138.6" y="180.8" textLength="58" lengthAdjust="spacingAndGlyphs">606-68-8</text>
<text x="1138.6" y="196.5" textLength="74.2" lengthAdjust="spacingAndGlyphs">20398-34-9</text>
<text x="1138.6" y="212.2" textLength="47.8" lengthAdjust="spacingAndGlyphs">51-79-6</text>
<text x="1138.6" y="227.9" textLength="58" lengthAdjust="spacingAndGlyphs">660-88-8</text>
<text x="1138.6" y="243.7" textLength="64" lengthAdjust="spacingAndGlyphs">6168-83-8</text>
<text x="1138.6" y="259.4" textLength="58" lengthAdjust="spacingAndGlyphs">625-72-9</text>
<text x="1138.6" y="275.1" textLength="58" lengthAdjust="spacingAndGlyphs">462-88-4</text>
<text x="1138.6" y="290.8" textLength="70" lengthAdjust="spacingAndGlyphs">22150-76-1</text>
<text x="1138.6" y="306.5" textLength="66.1" lengthAdjust="spacingAndGlyphs">4433-40-3</text>
<text x="1138.6" y="322.2" textLength="66.1" lengthAdjust="spacingAndGlyphs">3373-53-3</text>
<text x="1138.6" y="337.9" textLength="66.1" lengthAdjust="spacingAndGlyphs">2224-02-4</text>
<text x="1138.6" y="353.6" textLength="64" lengthAdjust="spacingAndGlyphs">6893-26-1</text>
<text x="1138.6" y="369.3" textLength="58" lengthAdjust="spacingAndGlyphs">498-59-9</text>
<text x="1138.6" y="385" textLength="49.9" lengthAdjust="spacingAndGlyphs">56-40-6</text>
<text x="1138.6" y="400.8" textLength="55.9" lengthAdjust="spacingAndGlyphs">124-04-9</text>
<text x="1138.6" y="416.5" textLength="55.9" lengthAdjust="spacingAndGlyphs">704-15-4</text>
<text x="1138.6" y="432.2" textLength="49.9" lengthAdjust="spacingAndGlyphs">79-33-4</text>
<text x="1138.6" y="447.9" textLength="49.6" lengthAdjust="spacingAndGlyphs">111-16-0</text>
<text x="1138.6" y="463.6" textLength="58" lengthAdjust="spacingAndGlyphs">454-29-5</text>
<text x="1138.6" y="479.3" textLength="74.2" lengthAdjust="spacingAndGlyphs">50924-49-7</text>
<text x="1138.6" y="495" textLength="74.2" lengthAdjust="spacingAndGlyphs">34369-07-8</text>
<text x="1138.6" y="510.7" textLength="64" lengthAdjust="spacingAndGlyphs">6893-26-1</text>
<text x="1138.6" y="526.4" textLength="49.9" lengthAdjust="spacingAndGlyphs">56-86-0</text>
<text x="1138.6" y="542.1" textLength="47.8" lengthAdjust="spacingAndGlyphs">56-12-2</text>
<text x="1138.6" y="557.8" textLength="72.1" lengthAdjust="spacingAndGlyphs">22059-21-8</text>
<text x="1138.6" y="573.6" textLength="66.1" lengthAdjust="spacingAndGlyphs">4408-78-0</text>
<text x="1138.6" y="589.3" textLength="72.1" lengthAdjust="spacingAndGlyphs">38215-36-0</text>
<text x="1138.6" y="605" textLength="64" lengthAdjust="spacingAndGlyphs">3902-71-4</text>
<text x="1138.6" y="620.7" textLength="49.9" lengthAdjust="spacingAndGlyphs">50-89-5</text>
<text x="1138.6" y="636.4" textLength="66.1" lengthAdjust="spacingAndGlyphs">2447-54-3</text>
<text x="1138.6" y="652.1" textLength="59.8" lengthAdjust="spacingAndGlyphs">1463-10-1</text>
<text x="1138.6" y="667.8" textLength="49.9" lengthAdjust="spacingAndGlyphs">83-88-5</text>
<text x="1138.6" y="683.5" textLength="55.9" lengthAdjust="spacingAndGlyphs">519-23-3</text>
<text x="1138.6" y="699.2" textLength="70" lengthAdjust="spacingAndGlyphs">51093-55-1</text>
</g>
<g font-size="14" text-anchor="end" fill="#111" stroke="#111" stroke-width="0.3">
<text transform="translate(1163.3 717) rotate(-90)" textLength="66.4" lengthAdjust="spacingAndGlyphs">3902-71-4</text>
<text transform="translate(1179.7 717) rotate(-90)" textLength="58" lengthAdjust="spacingAndGlyphs">149-30-4</text>
<text transform="translate(1196.1 717) rotate(-90)" textLength="68.6" lengthAdjust="spacingAndGlyphs">3606-45-9</text>
<text transform="translate(1212.5 717) rotate(-90)" textLength="68.6" lengthAdjust="spacingAndGlyphs">2447-54-3</text>
<text transform="translate(1228.9 717) rotate(-90)" textLength="77" lengthAdjust="spacingAndGlyphs">34369-07-8</text>
<text transform="translate(1245.3 717) rotate(-90)" textLength="60.2" lengthAdjust="spacingAndGlyphs">987-65-6</text>
<text transform="translate(1261.6 717) rotate(-90)" textLength="60.2" lengthAdjust="spacingAndGlyphs">606-68-8</text>
<text transform="translate(1278 717) rotate(-90)" textLength="77" lengthAdjust="spacingAndGlyphs">20398-34-9</text>
<text transform="translate(1294.4 717) rotate(-90)" textLength="49.6" lengthAdjust="spacingAndGlyphs">51-79-6</text>
<text transform="translate(1310.8 717) rotate(-90)" textLength="60.2" lengthAdjust="spacingAndGlyphs">660-88-8</text>
<text transform="translate(1327.2 717) rotate(-90)" textLength="66.4" lengthAdjust="spacingAndGlyphs">6168-83-8</text>
<text transform="translate(1343.6 717) rotate(-90)" textLength="60.2" lengthAdjust="spacingAndGlyphs">625-72-9</text>
<text transform="translate(1360 717) rotate(-90)" textLength="60.2" lengthAdjust="spacingAndGlyphs">462-88-4</text>
<text transform="translate(1376.4 717) rotate(-90)" textLength="72.6" lengthAdjust="spacingAndGlyphs">22150-76-1</text>
<text transform="translate(1392.8 717) rotate(-90)" textLength="68.6" lengthAdjust="spacingAndGlyphs">4433-40-3</text>
<text transform="translate(1409.2 717) rotate(-90)" textLength="68.6" lengthAdjust="spacingAndGlyphs">3373-53-3</text>
<text transform="translate(1425.5 717) rotate(-90)" textLength="68.6" lengthAdjust="spacingAndGlyphs">2224-02-4</text>
<text transform="translate(1441.9 717) rotate(-90)" textLength="66.4" lengthAdjust="spacingAndGlyphs">6893-26-1</text>
<text transform="translate(1458.3 717) rotate(-90)" textLength="60.2" lengthAdjust="spacingAndGlyphs">498-59-9</text>
<text transform="translate(1474.7 717) rotate(-90)" textLength="51.8" lengthAdjust="spacingAndGlyphs">56-40-6</text>
<text transform="translate(1491.1 717) rotate(-90)" textLength="58" lengthAdjust="spacingAndGlyphs">124-04-9</text>
<text transform="translate(1507.5 717) rotate(-90)" textLength="58" lengthAdjust="spacingAndGlyphs">704-15-4</text>
<text transform="translate(1523.9 717) rotate(-90)" textLength="51.8" lengthAdjust="spacingAndGlyphs">79-33-4</text>
<text transform="translate(1540.3 717) rotate(-90)" textLength="51.4" lengthAdjust="spacingAndGlyphs">111-16-0</text>
<text transform="translate(1556.7 717) rotate(-90)" textLength="60.2" lengthAdjust="spacingAndGlyphs">454-29-5</text>
<text transform="translate(1573.1 717) rotate(-90)" textLength="77" lengthAdjust="spacingAndGlyphs">50924-49-7</text>
<text transform="translate(1589.4 717) rotate(-90)" textLength="77" lengthAdjust="spacingAndGlyphs">34369-07-8</text>
<text transform="translate(1605.8 717) rotate(-90)" textLength="66.4" lengthAdjust="spacingAndGlyphs">6893-26-1</text>
<text transform="translate(1622.2 717) rotate(-90)" textLength="51.8" lengthAdjust="spacingAndGlyphs">56-86-0</text>
<text transform="translate(1638.6 717) rotate(-90)" textLength="49.6" lengthAdjust="spacingAndGlyphs">56-12-2</text>
<text transform="translate(1655 717) rotate(-90)" textLength="74.8" lengthAdjust="spacingAndGlyphs">22059-21-8</text>
<text transform="translate(1671.4 717) rotate(-90)" textLength="68.6" lengthAdjust="spacingAndGlyphs">4408-78-0</text>
<text transform="translate(1687.8 717) rotate(-90)" textLength="74.8" lengthAdjust="spacingAndGlyphs">38215-36-0</text>
<text transform="translate(1704.2 717) rotate(-90)" textLength="66.4" lengthAdjust="spacingAndGlyphs">3902-71-4</text>
<text transform="translate(1720.6 717) rotate(-90)" textLength="51.8" lengthAdjust="spacingAndGlyphs">50-89-5</text>
<text transform="translate(1737 717) rotate(-90)" textLength="68.6" lengthAdjust="spacingAndGlyphs">2447-54-3</text>
<text transform="translate(1753.3 717) rotate(-90)" textLength="62" lengthAdjust="spacingAndGlyphs">1463-10-1</text>
<text transform="translate(1769.7 717) rotate(-90)" textLength="51.8" lengthAdjust="spacingAndGlyphs">83-88-5</text>
<text transform="translate(1786.1 717) rotate(-90)" textLength="58" lengthAdjust="spacingAndGlyphs">519-23-3</text>
<text transform="translate(1802.5 717) rotate(-90)" textLength="72.6" lengthAdjust="spacingAndGlyphs">51093-55-1</text>
</g>
<path d="M1145.3 81.8h4.8M1145.3 97.5h4.8M1145.3 113.2h4.8M1145.3 128.9h4.8M1145.3 144.6h4.8M1145.3 160.3h4.8M1145.3 176h4.8M1145.3 191.7h4.8M1145.3 207.4h4.8M1145.3 223.1h4.8M1145.3 238.9h4.8M1145.3 254.6h4.8M1145.3 270.3h4.8M1145.3 286h4.8M1145.3 301.7h4.8M1145.3 317.4h4.8M1145.3 333.1h4.8M1145.3 348.8h4.8M1145.3 364.5h4.8M1145.3 380.2h4.8M1145.3 396h4.8M1145.3 411.7h4.8M1145.3 427.4h4.8M1145.3 443.1h4.8M1145.3 458.8h4.8M1145.3 474.5h4.8M1145.3 490.2h4.8M1145.3 505.9h4.8M1145.3 521.6h4.8M1145.3 537.3h4.8M1145.3 553h4.8M1145.3 568.8h4.8M1145.3 584.5h4.8M1145.3 600.2h4.8M1145.3 615.9h4.8M1145.3 631.6h4.8M1145.3 647.3h4.8M1145.3 663h4.8M1145.3 678.7h4.8M1145.3 694.4h4.8M1158.4 702.6v4.6M1174.8 702.6v4.6M1191.2 702.6v4.6M1207.6 702.6v4.6M1224 702.6v4.6M1240.4 702.6v4.6M1256.7 702.6v4.6M1273.1 702.6v4.6M1289.5 702.6v4.6M1305.9 702.6v4.6M1322.3 702.6v4.6M1338.7 702.6v4.6M1355.1 702.6v4.6M1371.5 702.6v4.6M1387.9 702.6v4.6M1404.2 702.6v4.6M1420.6 702.6v4.6M1437 702.6v4.6M1453.4 702.6v4.6M1469.8 702.6v4.6M1486.2 702.6v4.6M1502.6 702.6v4.6M1519 702.6v4.6M1535.4 702.6v4.6M1551.8 702.6v4.6M1568.2 702.6v4.6M1584.5 702.6v4.6M1600.9 702.6v4.6M1617.3 702.6v4.6M1633.7 702.6v4.6M1650.1 702.6v4.6M1666.5 702.6v4.6M1682.9 702.6v4.6M1699.3 702.6v4.6M1715.7 702.6v4.6M1732.1 702.6v4.6M1748.4 702.6v4.6M1764.8 702.6v4.6M1781.2 702.6v4.6M1797.6 702.6v4.6" stroke="#222" stroke-width="1" fill="none"/>
<rect x="1037.5" y="73.5" width="16.1" height="61.2" fill="#d9544d"/>
<rect x="1149.4" y="802" width="63.6" height="15.6" fill="#d9544d"/>
<rect x="1037.5" y="138.7" width="16.1" height="74.5" fill="#ee8f51"/>
<rect x="1216.5" y="802" width="78.5" height="15.6" fill="#ee8f51"/>
<rect x="1037.5" y="217.3" width="16.1" height="58.8" fill="#ebc148"/>
<rect x="1298.4" y="802" width="62.1" height="15.6" fill="#ebc148"/>
<rect x="1037.5" y="280.1" width="16.1" height="43.1" fill="#66b899"/>
<rect x="1364" y="802" width="45.7" height="15.6" fill="#66b899"/>
<rect x="1037.5" y="327.3" width="16.1" height="137.4" fill="#92b4dc"/>
<rect x="1413.1" y="802" width="144" height="15.6" fill="#92b4dc"/>
<rect x="1037.5" y="468.6" width="16.1" height="27.4" fill="#4f6fb6"/>
<rect x="1560.7" y="802" width="29.3" height="15.6" fill="#4f6fb6"/>
<rect x="1037.5" y="500.1" width="16.1" height="74.6" fill="#cd9bc8"/>
<rect x="1593.4" y="802" width="78.4" height="15.6" fill="#cd9bc8"/>
<rect x="1037.5" y="578.6" width="16.1" height="11.7" fill="#9a5540"/>
<rect x="1675.4" y="802" width="12.9" height="15.6" fill="#9a5540"/>
<rect x="1037.5" y="594.3" width="16.1" height="106" fill="#a5a5a5"/>
<rect x="1691.8" y="802" width="111.2" height="15.6" fill="#a5a5a5"/>
<text x="1043" y="59.8" font-size="19" fill="#111" stroke="#111" stroke-width="0.3" textLength="112.5" lengthAdjust="spacingAndGlyphs">CAS number</text>
<text transform="translate(1130.5 809.3) rotate(-90)" font-size="17.5" fill="#111" stroke="#111" stroke-width="0.3" textLength="101.7" lengthAdjust="spacingAndGlyphs">CAS number</text>
<defs><linearGradient id="gnbu" x1="0" x2="1" y1="0" y2="0"><stop offset="0" stop-color="#f4f9ec"/><stop offset="0.125" stop-color="#e2f2dc"/><stop offset="0.25" stop-color="#cfe9c9"/><stop offset="0.375" stop-color="#afdcb8"/><stop offset="0.5" stop-color="#7fcbc2"/><stop offset="0.625" stop-color="#52b1cf"/><stop offset="0.75" stop-color="#2f8cbe"/><stop offset="0.875" stop-color="#0f68ab"/><stop offset="1" stop-color="#0a4186"/></linearGradient></defs>
<rect x="1665.8" y="70.3" width="143.4" height="12.4" fill="url(#gnbu)"/>
<path d="M1667.1 84v8.8M1738.4 84v8.8M1808.9 84v8.8" stroke="#333" stroke-width="1.1" fill="none"/>
<text x="1642.8" y="63.7" font-size="18.5" fill="#111" stroke="#111" stroke-width="0.3" textLength="180.7" lengthAdjust="spacingAndGlyphs">Tanimoto coefficient</text>
<g font-size="15.8" text-anchor="middle" fill="#111" stroke="#111" stroke-width="0.3"><text x="1667" y="108.6">0</text><text x="1738.4" y="108.6">0.5</text><text x="1808" y="108.6">1.0</text></g>
<!-- panel d -->
<path d="M741.2 1197.6V923h18.6V1197.6zM767.7 1197.6V923h18.6V1197.6zM794.3 1197.6V923h18.6V1197.6zM820.8 1197.6V923h18.6V1197.6z" fill="#d9544d"/>
<path d="M847.3 1197.6V1177.1h18.6V1197.6zM873.9 1197.6V1185.4h18.6V1197.6zM900.4 1197.6V975h18.6V1197.6zM926.9 1197.6V999.6h18.6V1197.6zM953.4 1197.6V923h18.6V1197.6z" fill="#ee8f51"/>
<path d="M980 1197.6V967.1h18.6V1197.6zM1006.5 1197.6V923h18.6V1197.6zM1033 1197.6V923h18.6V1197.6zM1059.6 1197.6V990.2h18.6V1197.6z" fill="#ebc148"/>
<path d="M1086.1 1197.6V923h18.6V1197.6zM1112.6 1197.6V923h18.6V1197.6zM1139.2 1197.6V998.2h18.6V1197.6z" fill="#66b899"/>
<path d="M1165.7 1197.6V976.9h18.6V1197.6zM1192.2 1197.6V923h18.6V1197.6zM1218.7 1197.6V923h18.6V1197.6zM1245.3 1197.6V923h18.6V1197.6zM1271.8 1197.6V1019.5h18.6V1197.6zM1298.3 1197.6V923h18.6V1197.6zM1324.9 1197.6V1048.8h18.6V1197.6zM1351.4 1197.6V1152.9h18.6V1197.6zM1377.9 1197.6V1179.2h18.6V1197.6z" fill="#92afd1"/>
<path d="M1404.5 1197.6V923h18.6V1197.6zM1431 1197.6V1010.8h18.6V1197.6z" fill="#5170b7"/>
<path d="M1457.5 1197.6V1161.9h18.6V1197.6zM1484 1197.6V1092.1h18.6V1197.6zM1510.6 1197.6V1032.9h18.6V1197.6zM1537.1 1197.6V981.9h18.6V1197.6zM1563.6 1197.6V967.8h18.6V1197.6z" fill="#cd9bc8"/>
<path d="M1590.2 1197.6V1016.2h18.6V1197.6z" fill="#7d4531"/>
<path d="M1616.7 1197.6V923h18.6V1197.6zM1643.2 1197.6V923h18.6V1197.6zM1669.8 1197.6V923h18.6V1197.6zM1696.3 1197.6V923h18.6V1197.6zM1722.8 1197.6V923h18.6V1197.6zM1749.3 1197.6V923h18.6V1197.6zM1775.9 1197.6V923h18.6V1197.6z" fill="#a0a1a0"/>
<path d="M737 927.9H1798.4" stroke="#b5b5b5" stroke-width="1.2" stroke-dasharray="5.6 3.6" fill="none"/>
<path d="M736.8 909.7V1198.2H1798.4" stroke="#1a1a1a" stroke-width="1.5" fill="none"/>
<path d="M732.3 927.9H736.8M732.3 989.2H736.8M732.3 1056.8H736.8M732.3 1121.1H736.8M732.3 1185.5H736.8M750.5 1198.2V1205.8M777 1198.2V1205.8M803.6 1198.2V1205.8M830.1 1198.2V1205.8M856.6 1198.2V1205.8M883.1 1198.2V1205.8M909.7 1198.2V1205.8M936.2 1198.2V1205.8M962.7 1198.2V1205.8M989.3 1198.2V1205.8M1015.8 1198.2V1205.8M1042.3 1198.2V1205.8M1068.9 1198.2V1205.8M1095.4 1198.2V1205.8M1121.9 1198.2V1205.8M1148.5 1198.2V1205.8M1175 1198.2V1205.8M1201.5 1198.2V1205.8M1228 1198.2V1205.8M1254.6 1198.2V1205.8M1281.1 1198.2V1205.8M1307.6 1198.2V1205.8M1334.2 1198.2V1205.8M1360.7 1198.2V1205.8M1387.2 1198.2V1205.8M1413.8 1198.2V1205.8M1440.3 1198.2V1205.8M1466.8 1198.2V1205.8M1493.3 1198.2V1205.8M1519.9 1198.2V1205.8M1546.4 1198.2V1205.8M1572.9 1198.2V1205.8M1599.5 1198.2V1205.8M1626 1198.2V1205.8M1652.5 1198.2V1205.8M1679.1 1198.2V1205.8M1705.6 1198.2V1205.8M1732.1 1198.2V1205.8M1758.6 1198.2V1205.8M1785.2 1198.2V1205.8" stroke="#222" stroke-width="1.2" fill="none"/>
<path d="M734.2 970.7H736.8M734.2 960H736.8M734.2 952.3H736.8M734.2 946.4H736.8M734.2 941.5H736.8M734.2 937.4H736.8M734.2 933.8H736.8M734.2 930.7H736.8M734.2 1036.5H736.8M734.2 1024.5H736.8M734.2 1016.1H736.8M734.2 1009.5H736.8M734.2 1004.2H736.8M734.2 999.7H736.8M734.2 995.8H736.8M734.2 992.3H736.8M734.2 1101.7H736.8M734.2 1090.4H736.8M734.2 1082.4H736.8M734.2 1076.2H736.8M734.2 1071.1H736.8M734.2 1066.8H736.8M734.2 1063H736.8M734.2 1059.7H736.8M734.2 1166.1H736.8M734.2 1154.8H736.8M734.2 1146.7H736.8M734.2 1140.5H736.8M734.2 1135.4H736.8M734.2 1131.1H736.8M734.2 1127.3H736.8M734.2 1124H736.8M734.2 1199.8H736.8M734.2 1195.5H736.8M734.2 1191.7H736.8M734.2 1188.4H736.8M734.2 917.1H736.8" stroke="#222" stroke-width="0.9" fill="none"/>
<g font-size="14.6" text-anchor="end" fill="#111" stroke="#111" stroke-width="0.3">
<text x="723" y="933">&gt;100</text>
<text x="723" y="994.3">10</text>
<text x="723" y="1061.9">1</text>
<text x="723" y="1126.2">0.1</text>
<text x="723" y="1190.6">0.01</text>
</g>
<g font-size="15.3" text-anchor="end" fill="#111" stroke="#111" stroke-width="0.3">
<text transform="translate(756 1213.4) rotate(-90)" textLength="71.5" lengthAdjust="spacingAndGlyphs">3902-71-4</text>
<text transform="translate(782.5 1213.4) rotate(-90)" textLength="62.5" lengthAdjust="spacingAndGlyphs">149-30-4</text>
<text transform="translate(809.1 1213.4) rotate(-90)" textLength="73.9" lengthAdjust="spacingAndGlyphs">3606-45-9</text>
<text transform="translate(835.6 1213.4) rotate(-90)" textLength="73.9" lengthAdjust="spacingAndGlyphs">2447-54-3</text>
<text transform="translate(862.1 1213.4) rotate(-90)" textLength="82.9" lengthAdjust="spacingAndGlyphs">34369-07-8</text>
<text transform="translate(888.6 1213.4) rotate(-90)" textLength="64.8" lengthAdjust="spacingAndGlyphs">987-65-5</text>
<text transform="translate(915.2 1213.4) rotate(-90)" textLength="64.8" lengthAdjust="spacingAndGlyphs">606-68-8</text>
<text transform="translate(941.7 1213.4) rotate(-90)" textLength="82.9" lengthAdjust="spacingAndGlyphs">20398-34-9</text>
<text transform="translate(968.2 1213.4) rotate(-90)" textLength="53.4" lengthAdjust="spacingAndGlyphs">51-79-6</text>
<text transform="translate(994.8 1213.4) rotate(-90)" textLength="64.8" lengthAdjust="spacingAndGlyphs">660-88-8</text>
<text transform="translate(1021.3 1213.4) rotate(-90)" textLength="71.5" lengthAdjust="spacingAndGlyphs">6168-83-8</text>
<text transform="translate(1047.8 1213.4) rotate(-90)" textLength="64.8" lengthAdjust="spacingAndGlyphs">625-72-9</text>
<text transform="translate(1074.4 1213.4) rotate(-90)" textLength="64.8" lengthAdjust="spacingAndGlyphs">462-88-4</text>
<text transform="translate(1100.9 1213.4) rotate(-90)" textLength="78.2" lengthAdjust="spacingAndGlyphs">22150-76-1</text>
<text transform="translate(1127.4 1213.4) rotate(-90)" textLength="73.9" lengthAdjust="spacingAndGlyphs">4433-40-3</text>
<text transform="translate(1154 1213.4) rotate(-90)" textLength="73.9" lengthAdjust="spacingAndGlyphs">3373-53-3</text>
<text transform="translate(1180.5 1213.4) rotate(-90)" textLength="73.9" lengthAdjust="spacingAndGlyphs">2224-02-4</text>
<text transform="translate(1207 1213.4) rotate(-90)" textLength="71.5" lengthAdjust="spacingAndGlyphs">6893-26-1</text>
<text transform="translate(1233.5 1213.4) rotate(-90)" textLength="64.8" lengthAdjust="spacingAndGlyphs">498-59-9</text>
<text transform="translate(1260.1 1213.4) rotate(-90)" textLength="55.8" lengthAdjust="spacingAndGlyphs">56-40-6</text>
<text transform="translate(1286.6 1213.4) rotate(-90)" textLength="62.5" lengthAdjust="spacingAndGlyphs">124-04-9</text>
<text transform="translate(1313.1 1213.4) rotate(-90)" textLength="62.5" lengthAdjust="spacingAndGlyphs">704-15-4</text>
<text transform="translate(1339.7 1213.4) rotate(-90)" textLength="55.8" lengthAdjust="spacingAndGlyphs">79-33-4</text>
<text transform="translate(1366.2 1213.4) rotate(-90)" textLength="55.4" lengthAdjust="spacingAndGlyphs">111-16-0</text>
<text transform="translate(1392.7 1213.4) rotate(-90)" textLength="64.8" lengthAdjust="spacingAndGlyphs">454-29-5</text>
<text transform="translate(1419.2 1213.4) rotate(-90)" textLength="82.9" lengthAdjust="spacingAndGlyphs">50924-49-7</text>
<text transform="translate(1445.8 1213.4) rotate(-90)" textLength="82.9" lengthAdjust="spacingAndGlyphs">34369-07-8</text>
<text transform="translate(1472.3 1213.4) rotate(-90)" textLength="71.5" lengthAdjust="spacingAndGlyphs">6893-26-1</text>
<text transform="translate(1498.8 1213.4) rotate(-90)" textLength="55.8" lengthAdjust="spacingAndGlyphs">56-86-0</text>
<text transform="translate(1525.4 1213.4) rotate(-90)" textLength="53.4" lengthAdjust="spacingAndGlyphs">56-12-2</text>
<text transform="translate(1551.9 1213.4) rotate(-90)" textLength="80.6" lengthAdjust="spacingAndGlyphs">22059-21-8</text>
<text transform="translate(1578.4 1213.4) rotate(-90)" textLength="73.9" lengthAdjust="spacingAndGlyphs">4408-78-0</text>
<text transform="translate(1605 1213.4) rotate(-90)" textLength="80.6" lengthAdjust="spacingAndGlyphs">38215-36-0</text>
<text transform="translate(1631.5 1213.4) rotate(-90)" textLength="71.5" lengthAdjust="spacingAndGlyphs">3902-71-4</text>
<text transform="translate(1658 1213.4) rotate(-90)" textLength="55.8" lengthAdjust="spacingAndGlyphs">50-89-5</text>
<text transform="translate(1684.6 1213.4) rotate(-90)" textLength="73.9" lengthAdjust="spacingAndGlyphs">2447-54-3</text>
<text transform="translate(1711.1 1213.4) rotate(-90)" textLength="66.8" lengthAdjust="spacingAndGlyphs">1463-10-1</text>
<text transform="translate(1737.6 1213.4) rotate(-90)" textLength="55.8" lengthAdjust="spacingAndGlyphs">83-88-5</text>
<text transform="translate(1764.1 1213.4) rotate(-90)" textLength="62.5" lengthAdjust="spacingAndGlyphs">519-23-3</text>
<text transform="translate(1790.7 1213.4) rotate(-90)" textLength="78.2" lengthAdjust="spacingAndGlyphs">51093-55-1</text>
</g>
<text transform="translate(722.3 1302.1) rotate(-90)" font-size="16" fill="#111" stroke="#111" stroke-width="0.3" textLength="92.2" lengthAdjust="spacingAndGlyphs">CAS number</text>
<text transform="translate(675.5 1086.5) rotate(-90)" font-size="18.5" fill="#111" stroke="#111" stroke-width="0.3"><tspan font-style="italic">K</tspan><tspan font-size="12" dy="4">d</tspan><tspan dy="-4"> (µM)</tspan></text>
<rect x="737.9" y="1327.7" width="103" height="16" fill="#d9544d"/>
<rect x="846.9" y="1327.7" width="126.2" height="16" fill="#ee8f51"/>
<rect x="979.6" y="1327.7" width="101.9" height="16" fill="#ebc148"/>
<rect x="1086.9" y="1327.7" width="74.1" height="16" fill="#66b899"/>
<rect x="1166.4" y="1327.7" width="232" height="16" fill="#92b4dc"/>
<rect x="1405.2" y="1327.7" width="47" height="16" fill="#5170b7"/>
<rect x="1458" y="1327.7" width="126.1" height="16" fill="#cd9bc8"/>
<rect x="1589.2" y="1327.7" width="22" height="16" fill="#9a5540"/>
<rect x="1617.4" y="1327.7" width="179.9" height="16" fill="#a5a5a5"/>
<text x="19.2" y="51.6" font-size="32" font-weight="bold" fill="#000" stroke="#000" stroke-width="1.5" stroke-linejoin="round" textLength="19.3" lengthAdjust="spacingAndGlyphs">a</text>
<text x="18.4" y="904.3" font-size="32" font-weight="bold" fill="#000" stroke="#000" stroke-width="1.5" stroke-linejoin="round" textLength="21.5" lengthAdjust="spacingAndGlyphs">b</text>
<text x="1010.5" y="51.6" font-size="32" font-weight="bold" fill="#000" stroke="#000" stroke-width="1.5" stroke-linejoin="round" textLength="19.3" lengthAdjust="spacingAndGlyphs">c</text>
<text x="623.6" y="904.3" font-size="32" font-weight="bold" fill="#000" stroke="#000" stroke-width="1.5" stroke-linejoin="round" textLength="21.5" lengthAdjust="spacingAndGlyphs">d</text>
</svg></body></html>
